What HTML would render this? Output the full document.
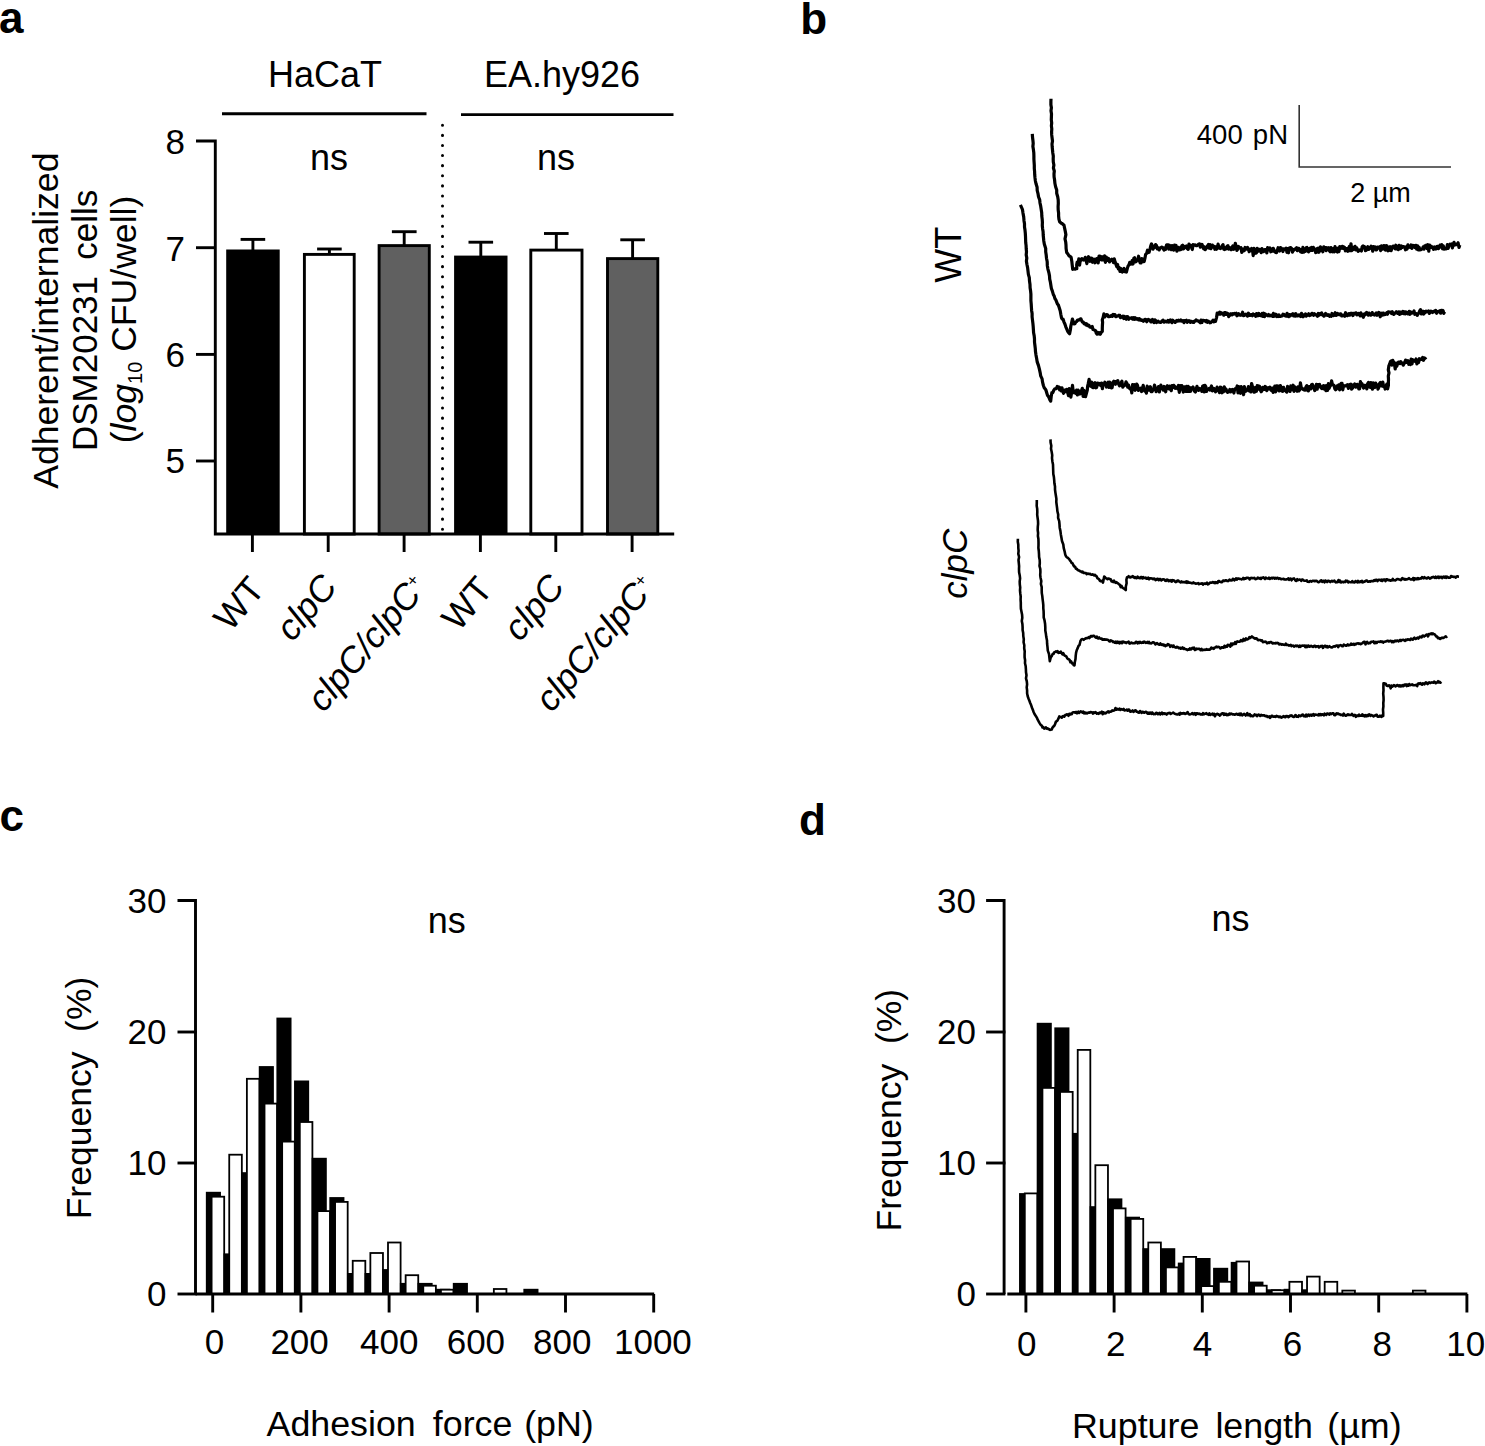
<!DOCTYPE html>
<html><head><meta charset="utf-8"><title>Figure</title><style>
html,body{margin:0;padding:0;background:#fff;overflow:hidden;}
svg{display:block;}
text{font-family:"Liberation Sans", sans-serif;fill:#000;}
.lbl{font-size:44px;font-weight:bold;}
.t36{font-size:36px;}
.t35{font-size:35px;}
.t27{font-size:27px;}
</style></head><body>
<svg width="1485" height="1446" viewBox="0 0 1485 1446">
<rect width="1485" height="1446" fill="#fff"/>
<text x="-1" y="33" class="lbl">a</text>
<text x="325" y="87" class="t36" text-anchor="middle">HaCaT</text>
<text x="562" y="87.3" class="t36" text-anchor="middle">EA.hy926</text>
<line x1="222" y1="113.8" x2="426.5" y2="113.8" stroke="#000" stroke-width="2.9"/>
<line x1="461" y1="114.6" x2="673.5" y2="114.6" stroke="#000" stroke-width="2.9"/>
<text x="329" y="170" class="t36" text-anchor="middle">ns</text>
<text x="556" y="169.5" class="t36" text-anchor="middle">ns</text>
<line x1="442.5" y1="125.2" x2="442.5" y2="533" stroke="#000" stroke-width="3" stroke-linecap="round" stroke-dasharray="0.1 10"/>
<line x1="252.9" y1="239.4" x2="252.9" y2="251.5" stroke="#000" stroke-width="2.9"/>
<line x1="240.6" y1="239.4" x2="265.2" y2="239.4" stroke="#000" stroke-width="2.9"/>
<rect x="226.2" y="249.5" width="53.5" height="284.5" fill="#000"/>
<line x1="329.4" y1="249.0" x2="329.4" y2="255.0" stroke="#000" stroke-width="2.9"/>
<line x1="317.1" y1="249.0" x2="341.7" y2="249.0" stroke="#000" stroke-width="2.9"/>
<rect x="304.4" y="254.4" width="49.8" height="279.6" fill="#fff" stroke="#000" stroke-width="2.9"/>
<line x1="404.2" y1="231.7" x2="404.2" y2="246.2" stroke="#000" stroke-width="2.9"/>
<line x1="391.9" y1="231.7" x2="416.6" y2="231.7" stroke="#000" stroke-width="2.9"/>
<rect x="379.1" y="245.6" width="50.2" height="288.4" fill="#606060" stroke="#000" stroke-width="2.9"/>
<line x1="480.8" y1="242.2" x2="480.8" y2="257.6" stroke="#000" stroke-width="2.9"/>
<line x1="468.5" y1="242.2" x2="493.1" y2="242.2" stroke="#000" stroke-width="2.9"/>
<rect x="454.1" y="255.6" width="53.4" height="278.4" fill="#000"/>
<line x1="556.3" y1="233.5" x2="556.3" y2="250.7" stroke="#000" stroke-width="2.9"/>
<line x1="544.0" y1="233.5" x2="568.6" y2="233.5" stroke="#000" stroke-width="2.9"/>
<rect x="530.8" y="250.1" width="51.2" height="283.9" fill="#fff" stroke="#000" stroke-width="2.9"/>
<line x1="632.6" y1="239.8" x2="632.6" y2="259.2" stroke="#000" stroke-width="2.9"/>
<line x1="620.3" y1="239.8" x2="644.9" y2="239.8" stroke="#000" stroke-width="2.9"/>
<rect x="607.5" y="258.6" width="50.3" height="275.4" fill="#606060" stroke="#000" stroke-width="2.9"/>
<path d="M196 141 H215.3 V534 H674.2" fill="none" stroke="#000" stroke-width="2.9"/>
<line x1="196" y1="247.7" x2="215.3" y2="247.7" stroke="#000" stroke-width="2.9"/>
<line x1="196" y1="354.4" x2="215.3" y2="354.4" stroke="#000" stroke-width="2.9"/>
<line x1="196" y1="461.0" x2="215.3" y2="461.0" stroke="#000" stroke-width="2.9"/>
<line x1="252.4" y1="534" x2="252.4" y2="552" stroke="#000" stroke-width="2.9"/>
<line x1="328.2" y1="534" x2="328.2" y2="552" stroke="#000" stroke-width="2.9"/>
<line x1="404.1" y1="534" x2="404.1" y2="552" stroke="#000" stroke-width="2.9"/>
<line x1="480.4" y1="534" x2="480.4" y2="552" stroke="#000" stroke-width="2.9"/>
<line x1="555.8" y1="534" x2="555.8" y2="552" stroke="#000" stroke-width="2.9"/>
<line x1="632.1" y1="534" x2="632.1" y2="552" stroke="#000" stroke-width="2.9"/>
<text x="185" y="153.5" class="t35" text-anchor="end">8</text>
<text x="185" y="260.5" class="t35" text-anchor="end">7</text>
<text x="185" y="367" class="t35" text-anchor="end">6</text>
<text x="185" y="473" class="t35" text-anchor="end">5</text>
<g transform="translate(57.5 320.7) rotate(-90)"><text x="0" y="0" class="t36" style="font-size:35.6px" text-anchor="middle">Adherent/internalized</text></g>
<g transform="translate(96.7 320.4) rotate(-90)"><text x="0" y="0" class="t36" style="font-size:35px" text-anchor="middle" word-spacing="6.5">DSM20231 cells</text></g>
<g transform="translate(136 319.5) rotate(-90)"><text x="0" y="0" class="t36" style="font-size:35.6px" text-anchor="middle">(<tspan font-style="italic">log</tspan><tspan font-size="20" dy="6">10</tspan><tspan dy="-6"> CFU/well)</tspan></text></g>
<g transform="translate(266.4 590) rotate(-50)"><text x="0" y="0" class="t36" text-anchor="end">WT</text></g>
<g transform="translate(338.7 587.5) rotate(-50)"><text x="0" y="0" class="t36" text-anchor="end" font-style="italic">clpC</text></g>
<g transform="translate(429.1 588) rotate(-50)"><text x="0" y="0" class="t36" text-anchor="end" font-style="italic">clpC/clpC<tspan font-size="17" dy="-12">+</tspan></text></g>
<g transform="translate(494.4 590) rotate(-50)"><text x="0" y="0" class="t36" text-anchor="end">WT</text></g>
<g transform="translate(566.3 587.5) rotate(-50)"><text x="0" y="0" class="t36" text-anchor="end" font-style="italic">clpC</text></g>
<g transform="translate(657.1 588) rotate(-50)"><text x="0" y="0" class="t36" text-anchor="end" font-style="italic">clpC/clpC<tspan font-size="17" dy="-12">+</tspan></text></g>
<text x="800.3" y="33.9" class="lbl">b</text>
<path d="M1299.2 105 V167 H1451" fill="none" stroke="#333" stroke-width="1.6"/>
<text x="1288" y="144" class="t27" style="font-size:27.5px" text-anchor="end" word-spacing="2.5">400 pN</text>
<text x="1380.5" y="202" class="t27" text-anchor="middle">2 µm</text>
<g transform="translate(960.5 254.7) rotate(-90)"><text x="0" y="0" class="t36" text-anchor="middle">WT</text></g>
<g transform="translate(967.2 563.7) rotate(-90)"><text x="0" y="0" class="t35" text-anchor="middle" font-style="italic">clpC</text></g>
<path d="M1051.0 98.8 L1050.9 101.8 L1050.9 104.8 L1051.4 107.8 L1051.0 110.8 L1051.5 113.9 L1051.4 116.9 L1051.3 119.9 L1051.7 122.9 L1051.4 125.9 L1051.8 128.9 L1051.6 131.9 L1051.7 134.9 L1052.1 138.0 L1052.5 141.0 L1052.0 144.0 L1052.2 147.0 L1052.5 150.0 L1052.8 153.0 L1053.3 156.0 L1053.2 159.0 L1053.3 162.0 L1053.9 165.0 L1053.4 168.0 L1054.3 171.0 L1054.0 174.0 L1054.1 177.0 L1054.6 180.0 L1054.9 183.3 L1055.6 186.7 L1056.7 190.0 L1056.7 193.3 L1057.7 196.7 L1058.2 200.0 L1058.3 203.3 L1058.1 206.7 L1058.2 210.0 L1058.6 213.0 L1058.6 216.0 L1058.9 219.0 L1059.6 221.7 L1060.5 222.5 L1061.3 223.2 L1062.2 223.5 L1063.0 224.5 L1063.9 224.9 L1064.6 228.2 L1065.3 231.4 L1065.9 234.7 L1065.0 238.8 L1065.7 242.0 L1066.0 245.2 L1066.1 248.5 L1066.7 252.5 L1067.9 254.0 L1069.1 256.0 L1070.1 256.3 L1071.1 257.4 L1071.8 261.2 L1072.2 264.9 L1072.7 269.3 L1073.5 269.0 L1074.3 268.8 L1075.2 269.2 L1076.0 268.7 L1076.8 268.7 L1076.7 264.6 L1077.2 262.1 L1078.0 264.3 L1078.8 258.9 L1079.6 265.1 L1080.4 259.3 L1081.2 260.3 L1082.0 258.7 L1082.8 259.4 L1083.7 260.1 L1084.5 259.4 L1085.3 257.3 L1086.1 260.4 L1086.9 263.6 L1087.7 259.0 L1088.5 256.7 L1089.3 257.6 L1090.1 261.3 L1090.9 259.9 L1091.7 258.2 L1092.5 262.3 L1093.3 260.7 L1094.1 259.1 L1095.0 262.8 L1095.8 259.8 L1096.6 258.5 L1097.4 258.5 L1098.2 262.9 L1099.0 256.2 L1099.8 256.1 L1100.6 259.3 L1101.4 259.8 L1102.2 256.7 L1103.0 259.9 L1103.8 259.6 L1104.6 255.8 L1105.4 262.3 L1106.2 257.2 L1107.1 260.5 L1107.9 258.4 L1108.7 258.6 L1109.5 261.9 L1110.3 259.8 L1111.1 260.3 L1111.9 259.3 L1112.7 260.7 L1113.5 262.5 L1114.3 258.9 L1115.2 262.3 L1116.0 264.4 L1116.8 266.8 L1117.6 264.5 L1118.4 269.0 L1119.2 267.5 L1120.0 271.5 L1120.8 268.6 L1121.6 270.1 L1122.4 272.1 L1123.2 269.6 L1124.0 268.4 L1124.8 271.7 L1125.6 270.0 L1126.4 272.1 L1127.3 268.6 L1128.1 265.9 L1128.9 264.9 L1129.7 262.5 L1130.5 264.2 L1131.3 263.8 L1132.1 260.7 L1133.0 264.0 L1133.8 258.4 L1134.6 257.8 L1135.4 261.9 L1136.2 261.6 L1137.0 260.1 L1137.8 259.6 L1138.6 256.2 L1139.4 260.8 L1140.2 263.0 L1141.0 262.9 L1141.8 258.6 L1142.6 259.5 L1143.4 261.7 L1144.2 261.4 L1145.0 257.9 L1145.6 254.4 L1146.7 253.4 L1147.5 250.2 L1148.3 252.5 L1149.1 252.2 L1149.9 249.5 L1150.7 246.0 L1151.5 243.9 L1152.3 246.1 L1153.1 249.1 L1153.9 246.3 L1154.7 247.2 L1155.6 244.6 L1156.5 245.6 L1157.3 248.8 L1158.2 247.7 L1159.1 249.9 L1160.0 248.2 L1160.8 247.6 L1161.6 247.2 L1162.4 247.3 L1163.2 248.6 L1164.0 250.1 L1164.8 247.8 L1165.6 249.4 L1166.5 245.1 L1167.3 244.8 L1168.1 244.8 L1168.9 249.1 L1169.7 245.3 L1170.5 248.3 L1171.3 249.6 L1172.1 245.6 L1172.9 246.7 L1173.7 250.2 L1174.5 245.2 L1175.3 247.3 L1176.1 245.4 L1176.9 251.2 L1177.8 249.5 L1178.6 247.3 L1179.4 249.9 L1180.2 249.7 L1181.0 249.4 L1181.8 245.8 L1182.6 245.2 L1183.4 249.0 L1184.2 248.1 L1185.0 246.5 L1185.8 247.2 L1186.6 246.0 L1187.4 248.8 L1188.2 249.4 L1189.0 244.1 L1189.9 245.6 L1190.7 245.3 L1191.5 247.4 L1192.3 249.5 L1193.1 244.7 L1193.9 245.4 L1194.7 244.9 L1195.5 245.1 L1196.3 245.7 L1197.1 245.6 L1197.9 244.9 L1198.7 244.0 L1199.5 243.9 L1200.3 247.1 L1201.1 246.6 L1202.0 244.4 L1202.8 246.4 L1203.6 248.8 L1204.4 246.8 L1205.2 249.6 L1206.0 248.7 L1206.8 247.5 L1207.6 245.8 L1208.4 244.5 L1209.2 248.1 L1210.0 244.6 L1210.8 248.7 L1211.6 247.6 L1212.4 245.1 L1213.3 246.4 L1214.1 246.3 L1214.9 249.3 L1215.7 246.8 L1216.5 249.3 L1217.3 248.4 L1218.1 244.0 L1218.9 247.4 L1219.7 248.3 L1220.5 248.6 L1221.4 247.4 L1222.2 245.7 L1223.0 244.6 L1223.8 249.3 L1224.6 249.6 L1225.4 248.0 L1226.3 248.8 L1227.1 246.3 L1227.9 245.6 L1228.7 249.1 L1229.5 247.5 L1230.4 248.1 L1231.2 249.7 L1232.0 247.4 L1232.8 245.9 L1233.6 249.3 L1234.5 247.9 L1235.3 243.3 L1236.1 246.1 L1236.9 250.4 L1237.7 249.3 L1238.5 246.5 L1239.4 247.8 L1240.2 248.0 L1241.0 247.7 L1241.8 252.4 L1242.6 249.0 L1243.5 250.9 L1244.3 250.6 L1245.1 247.5 L1245.9 248.7 L1246.7 249.1 L1247.5 247.4 L1248.4 249.1 L1249.2 251.7 L1250.0 249.5 L1250.8 250.5 L1251.6 248.5 L1252.4 249.0 L1253.2 255.6 L1254.0 248.3 L1254.8 253.4 L1255.6 250.0 L1256.4 253.0 L1257.2 248.3 L1258.0 249.2 L1258.8 251.1 L1259.6 249.3 L1260.4 249.8 L1261.2 252.6 L1262.0 248.6 L1262.8 251.5 L1263.6 251.7 L1264.4 249.8 L1265.2 249.5 L1266.0 249.5 L1266.8 252.9 L1267.6 247.7 L1268.4 249.0 L1269.2 249.8 L1270.0 248.0 L1270.8 251.8 L1271.6 249.1 L1272.4 251.2 L1273.2 248.3 L1274.0 249.9 L1274.9 251.8 L1275.7 252.4 L1276.5 252.6 L1277.3 250.5 L1278.1 247.7 L1278.9 249.9 L1279.7 251.0 L1280.5 247.6 L1281.3 248.1 L1282.1 249.3 L1282.9 251.5 L1283.7 248.8 L1284.5 249.0 L1285.3 249.5 L1286.1 248.2 L1286.9 252.3 L1287.7 248.5 L1288.5 252.8 L1289.3 248.0 L1290.1 247.7 L1290.9 247.7 L1291.7 248.6 L1292.5 252.1 L1293.3 249.5 L1294.1 250.1 L1294.9 249.0 L1295.7 248.7 L1296.5 247.8 L1297.3 250.6 L1298.1 248.3 L1298.9 248.4 L1299.7 249.5 L1300.5 251.8 L1301.3 249.7 L1302.1 252.4 L1302.9 247.4 L1303.7 252.2 L1304.5 249.6 L1305.3 251.3 L1306.1 247.8 L1306.9 247.5 L1307.7 250.8 L1308.5 251.9 L1309.3 248.7 L1310.1 248.2 L1310.9 250.5 L1311.7 247.5 L1312.5 250.4 L1313.3 247.4 L1314.1 249.7 L1314.9 248.9 L1315.7 252.6 L1316.5 252.3 L1317.3 248.5 L1318.1 248.1 L1318.9 252.3 L1319.7 250.6 L1320.5 246.8 L1321.3 250.4 L1322.1 248.1 L1322.9 251.8 L1323.8 246.8 L1324.6 249.0 L1325.4 247.7 L1326.2 250.7 L1327.0 247.7 L1327.8 248.3 L1328.6 247.8 L1329.4 250.8 L1330.2 251.8 L1331.0 247.5 L1331.8 248.8 L1332.6 251.8 L1333.4 248.7 L1334.2 251.9 L1335.0 246.7 L1335.8 248.6 L1336.6 251.3 L1337.4 252.0 L1338.2 248.2 L1339.0 251.6 L1339.8 246.5 L1340.6 248.4 L1341.4 248.2 L1342.2 246.3 L1343.0 248.3 L1343.8 247.0 L1344.6 247.4 L1345.4 250.8 L1346.2 248.6 L1347.0 248.9 L1347.8 251.3 L1348.6 248.2 L1349.4 246.3 L1350.2 250.7 L1351.0 243.8 L1351.8 250.6 L1352.6 247.2 L1353.4 249.5 L1354.2 247.9 L1355.0 246.3 L1355.8 249.9 L1356.6 247.7 L1357.4 249.3 L1358.2 251.3 L1359.0 250.6 L1359.8 249.9 L1360.6 250.3 L1361.4 251.0 L1362.2 246.6 L1363.0 245.9 L1363.8 247.6 L1364.6 246.7 L1365.4 250.6 L1366.2 250.2 L1367.0 248.6 L1367.8 246.7 L1368.6 249.4 L1369.4 248.8 L1370.2 248.1 L1371.1 246.1 L1371.9 246.8 L1372.7 251.2 L1373.5 246.6 L1374.3 248.2 L1375.1 246.9 L1375.9 249.9 L1376.7 249.9 L1377.5 247.1 L1378.3 247.0 L1379.1 248.0 L1379.9 246.8 L1380.7 250.6 L1381.5 245.8 L1382.3 246.8 L1383.1 249.1 L1383.9 245.5 L1384.7 248.1 L1385.5 250.1 L1386.3 245.6 L1387.1 246.0 L1387.9 250.8 L1388.7 250.5 L1389.5 250.1 L1390.3 246.7 L1391.1 250.6 L1391.9 248.6 L1392.7 246.4 L1393.5 246.0 L1394.3 246.6 L1395.1 248.8 L1395.9 245.2 L1396.7 248.9 L1397.5 246.9 L1398.3 249.6 L1399.1 245.4 L1399.9 247.3 L1400.7 248.6 L1401.5 246.0 L1402.3 247.3 L1403.1 246.7 L1403.9 246.7 L1404.7 247.0 L1405.5 249.8 L1406.3 247.0 L1407.1 249.0 L1407.9 244.9 L1408.7 247.3 L1409.5 247.1 L1410.3 247.4 L1411.1 244.9 L1411.9 248.4 L1412.7 245.3 L1413.5 246.9 L1414.3 245.6 L1415.1 247.7 L1415.9 245.3 L1416.7 249.2 L1417.6 245.8 L1418.4 250.0 L1419.2 247.4 L1420.0 249.8 L1420.8 249.7 L1421.6 249.2 L1422.4 249.0 L1423.2 246.8 L1424.0 249.2 L1424.8 245.8 L1425.6 247.4 L1426.4 245.2 L1427.2 248.5 L1428.0 244.7 L1428.8 251.2 L1429.6 245.1 L1430.4 247.5 L1431.2 246.1 L1432.0 247.6 L1432.8 248.0 L1433.6 249.3 L1434.4 246.9 L1435.2 247.8 L1436.0 249.0 L1436.8 246.5 L1437.6 246.3 L1438.4 248.7 L1439.2 247.9 L1440.0 245.1 L1440.8 245.9 L1441.7 244.6 L1442.5 248.8 L1443.3 245.8 L1444.1 249.2 L1445.0 248.1 L1445.8 248.9 L1446.6 248.7 L1447.4 244.5 L1448.2 248.4 L1449.1 245.3 L1449.9 244.2 L1450.7 244.7 L1451.5 244.0 L1452.4 247.9 L1453.2 244.4 L1454.0 242.3 L1454.8 245.0 L1455.7 244.3 L1456.5 244.7 L1457.3 244.0 L1458.1 242.8 L1459.0 247.5 L1459.8 245.0" fill="none" stroke="#000" stroke-width="3.2" stroke-linejoin="round"/>
<path d="M1032.3 133.9 L1032.5 137.0 L1032.9 140.2 L1033.2 143.3 L1032.9 146.5 L1033.4 149.6 L1033.8 152.7 L1033.9 155.9 L1033.9 159.0 L1034.1 162.2 L1034.3 165.3 L1034.3 168.4 L1034.6 171.6 L1034.7 174.7 L1035.0 177.9 L1035.4 181.0 L1036.1 184.1 L1037.1 187.3 L1037.2 190.4 L1038.0 193.6 L1038.5 196.7 L1039.7 199.9 L1040.0 203.0 L1040.7 206.2 L1041.2 209.5 L1041.7 212.8 L1041.8 216.0 L1042.2 219.2 L1042.4 222.3 L1042.3 225.5 L1042.6 228.7 L1043.1 231.8 L1043.2 235.0 L1043.5 238.0 L1043.8 241.0 L1044.3 244.0 L1045.7 248.5 L1045.7 251.7 L1046.2 255.0 L1046.5 258.2 L1047.2 261.8 L1047.3 265.4 L1047.9 269.1 L1048.9 272.7 L1049.5 275.9 L1049.7 279.1 L1050.4 282.2 L1050.9 285.4 L1051.4 288.5 L1052.3 290.9 L1053.3 294.4 L1054.2 296.1 L1055.0 298.7 L1055.8 299.7 L1056.7 302.1 L1057.5 304.1 L1058.3 304.9 L1059.1 307.2 L1060.2 310.7 L1060.8 314.2 L1061.5 317.8 L1062.3 319.1 L1063.1 319.1 L1063.9 321.8 L1064.9 324.0 L1065.8 326.8 L1066.8 329.2 L1067.7 331.3 L1068.7 332.7 L1069.6 333.8 L1070.4 329.8 L1070.8 326.3 L1071.6 322.8 L1072.4 319.0 L1074.0 323.9 L1074.9 323.7 L1075.7 322.3 L1076.6 321.6 L1077.5 320.1 L1078.4 320.2 L1079.2 319.8 L1080.1 319.2 L1080.9 318.8 L1081.7 320.8 L1082.5 322.2 L1083.3 322.1 L1084.1 323.7 L1084.9 323.4 L1085.7 324.7 L1086.5 323.7 L1087.4 325.6 L1088.2 325.0 L1089.0 325.4 L1089.8 327.0 L1090.6 327.3 L1091.4 327.5 L1092.2 326.5 L1093.0 329.5 L1093.9 329.7 L1094.7 330.3 L1095.5 330.5 L1096.3 333.2 L1097.1 334.1 L1097.9 332.4 L1098.7 333.8 L1099.5 332.8 L1100.3 334.2 L1101.3 332.3 L1102.3 331.4 L1102.3 328.4 L1102.4 325.4 L1102.6 322.3 L1102.3 319.7 L1103.1 317.5 L1103.9 313.9 L1104.8 316.9 L1105.7 315.2 L1106.6 314.5 L1107.4 314.7 L1108.3 316.6 L1109.2 316.6 L1110.0 316.2 L1110.8 316.3 L1111.6 315.5 L1112.4 316.4 L1113.2 314.4 L1114.1 314.7 L1114.9 314.6 L1115.7 316.7 L1116.5 316.4 L1117.3 316.1 L1118.1 315.8 L1118.9 315.2 L1119.7 315.4 L1120.5 317.7 L1121.3 317.2 L1122.1 317.1 L1122.9 316.1 L1123.7 318.6 L1124.5 316.4 L1125.4 318.4 L1126.2 319.2 L1127.0 316.6 L1127.8 316.8 L1128.6 319.3 L1129.4 318.0 L1130.2 318.0 L1131.0 318.3 L1131.8 317.6 L1132.7 319.1 L1133.5 317.7 L1134.3 319.4 L1135.1 317.6 L1136.0 319.1 L1136.8 319.0 L1137.6 318.7 L1138.4 319.9 L1139.3 318.6 L1140.1 320.0 L1140.9 319.6 L1141.7 320.5 L1142.6 320.2 L1143.4 321.3 L1144.2 320.3 L1145.0 319.3 L1145.9 319.5 L1146.7 321.8 L1147.5 320.8 L1148.3 319.4 L1149.2 320.0 L1150.0 320.0 L1150.8 322.0 L1151.6 322.0 L1152.5 319.5 L1153.3 320.8 L1154.1 322.6 L1154.9 319.8 L1155.8 320.7 L1156.6 322.6 L1157.4 321.6 L1158.2 321.2 L1159.0 322.1 L1159.8 322.2 L1160.6 322.5 L1161.4 321.8 L1162.2 320.8 L1163.1 320.2 L1163.9 322.2 L1164.7 321.8 L1165.5 321.2 L1166.3 321.8 L1167.1 321.9 L1167.9 320.4 L1168.7 322.2 L1169.5 321.4 L1170.3 320.0 L1171.1 320.4 L1171.9 322.7 L1172.7 320.2 L1173.5 321.5 L1174.4 321.4 L1175.2 322.4 L1176.0 321.1 L1176.8 320.5 L1177.6 321.1 L1178.4 320.3 L1179.2 321.0 L1180.0 320.7 L1180.8 319.9 L1181.6 321.2 L1182.4 321.0 L1183.2 320.6 L1184.0 322.7 L1184.8 320.6 L1185.6 321.1 L1186.5 320.3 L1187.3 322.3 L1188.1 321.3 L1188.9 320.6 L1189.7 321.0 L1190.5 322.4 L1191.3 321.3 L1192.1 321.5 L1192.9 322.4 L1193.7 322.5 L1194.5 321.0 L1195.3 321.2 L1196.1 319.9 L1196.9 320.7 L1197.7 320.8 L1198.6 321.2 L1199.4 321.9 L1200.2 322.7 L1201.0 320.1 L1201.8 322.6 L1202.6 320.3 L1203.4 320.4 L1204.2 320.5 L1205.0 320.8 L1205.8 321.6 L1206.6 320.5 L1207.4 322.3 L1208.2 321.1 L1209.0 321.7 L1209.9 322.8 L1210.7 322.6 L1211.5 321.8 L1212.3 321.4 L1213.1 320.1 L1213.9 321.9 L1214.7 320.3 L1215.5 321.4 L1216.6 317.3 L1217.2 313.1 L1218.0 313.2 L1218.8 314.0 L1219.7 312.2 L1220.5 314.2 L1221.3 312.8 L1222.1 313.4 L1222.9 313.4 L1223.8 315.2 L1224.6 312.5 L1225.4 312.6 L1226.2 314.3 L1227.0 313.1 L1227.9 313.8 L1228.7 316.6 L1229.5 314.2 L1230.3 315.1 L1231.1 313.8 L1232.0 314.8 L1232.8 313.7 L1233.6 314.2 L1234.4 313.3 L1235.2 313.8 L1236.1 313.3 L1236.9 315.8 L1237.7 315.2 L1238.5 313.6 L1239.3 314.6 L1240.2 315.3 L1241.0 315.1 L1241.8 314.6 L1242.6 312.2 L1243.4 315.6 L1244.3 315.4 L1245.1 314.6 L1245.9 314.2 L1246.7 315.2 L1247.5 316.0 L1248.4 313.2 L1249.2 315.2 L1250.0 315.4 L1250.8 314.5 L1251.6 314.8 L1252.4 315.8 L1253.2 314.0 L1254.1 314.6 L1254.9 314.6 L1255.7 316.3 L1256.5 313.6 L1257.3 315.8 L1258.1 315.6 L1258.9 313.4 L1259.7 315.2 L1260.5 315.5 L1261.3 315.9 L1262.2 313.5 L1263.0 316.3 L1263.8 313.2 L1264.6 316.6 L1265.4 314.0 L1266.2 314.9 L1267.0 315.2 L1267.8 315.8 L1268.6 314.5 L1269.4 315.7 L1270.2 315.9 L1271.0 315.2 L1271.8 315.6 L1272.6 316.4 L1273.4 313.4 L1274.2 316.3 L1275.0 315.4 L1275.8 314.3 L1276.6 316.5 L1277.4 315.3 L1278.2 316.5 L1279.0 314.9 L1279.8 316.5 L1280.6 316.5 L1281.4 316.0 L1282.2 315.9 L1283.0 314.2 L1283.8 314.4 L1284.7 315.4 L1285.5 316.0 L1286.3 316.2 L1287.1 313.3 L1287.9 316.1 L1288.7 316.6 L1289.5 314.6 L1290.3 315.9 L1291.1 314.8 L1291.9 314.3 L1292.7 313.8 L1293.5 315.8 L1294.3 314.2 L1295.1 316.2 L1295.9 313.7 L1296.7 315.9 L1297.5 315.9 L1298.3 315.0 L1299.1 314.9 L1299.9 315.9 L1300.7 316.5 L1301.5 313.4 L1302.3 315.6 L1303.1 316.7 L1303.9 314.8 L1304.7 315.9 L1305.5 314.0 L1306.3 316.2 L1307.1 315.0 L1307.9 315.2 L1308.7 313.8 L1309.5 315.6 L1310.3 315.1 L1311.1 314.9 L1311.9 313.3 L1312.7 314.4 L1313.5 315.3 L1314.3 313.7 L1315.1 314.3 L1315.9 314.8 L1316.7 315.2 L1317.5 316.3 L1318.3 313.5 L1319.1 315.2 L1319.9 313.6 L1320.7 314.3 L1321.6 312.9 L1322.4 315.0 L1323.2 314.7 L1324.0 316.2 L1324.8 315.2 L1325.6 313.5 L1326.4 314.0 L1327.2 315.3 L1328.0 315.4 L1328.8 314.7 L1329.6 316.4 L1330.4 315.4 L1331.2 316.3 L1332.0 313.5 L1332.8 314.0 L1333.6 315.6 L1334.4 314.8 L1335.2 312.7 L1336.0 315.4 L1336.8 315.1 L1337.6 313.5 L1338.4 314.0 L1339.2 314.7 L1340.0 313.9 L1340.8 313.9 L1341.6 315.8 L1342.4 315.9 L1343.2 315.1 L1344.0 315.5 L1344.8 316.2 L1345.6 312.7 L1346.4 314.5 L1347.2 315.7 L1348.0 315.0 L1348.9 313.6 L1349.7 315.2 L1350.5 313.3 L1351.3 313.7 L1352.1 313.3 L1352.9 315.6 L1353.7 313.3 L1354.5 313.8 L1355.3 313.0 L1356.1 312.8 L1356.9 314.9 L1357.7 314.2 L1358.5 313.4 L1359.3 313.8 L1360.1 315.9 L1360.9 312.8 L1361.7 315.5 L1362.5 314.9 L1363.3 317.3 L1364.1 314.1 L1364.9 315.1 L1365.7 313.3 L1366.6 312.5 L1367.4 313.3 L1368.2 315.2 L1369.0 313.1 L1369.8 314.3 L1370.6 315.2 L1371.4 314.8 L1372.2 312.6 L1373.0 314.3 L1373.8 314.7 L1374.6 315.0 L1375.4 313.8 L1376.2 313.0 L1377.0 315.3 L1377.8 313.4 L1378.6 312.4 L1379.4 312.8 L1380.2 316.8 L1381.0 313.9 L1381.8 313.1 L1382.6 315.2 L1383.4 313.1 L1384.3 314.7 L1385.1 314.5 L1385.9 313.7 L1386.7 312.8 L1387.5 314.2 L1388.3 311.8 L1389.1 312.1 L1389.9 312.0 L1390.7 312.2 L1391.5 313.5 L1392.3 311.7 L1393.1 314.1 L1393.9 314.4 L1394.7 313.1 L1395.5 313.0 L1396.3 311.8 L1397.1 312.4 L1397.9 313.4 L1398.7 311.8 L1399.5 314.4 L1400.3 312.1 L1401.2 313.6 L1402.0 312.7 L1402.8 311.4 L1403.6 313.6 L1404.4 311.8 L1405.2 313.9 L1406.0 312.0 L1406.8 312.7 L1407.6 313.9 L1408.4 313.9 L1409.2 311.3 L1410.0 314.3 L1410.8 311.9 L1411.6 313.2 L1412.4 312.8 L1413.2 312.5 L1414.0 311.0 L1414.8 314.3 L1415.6 314.1 L1416.4 313.7 L1417.2 315.4 L1418.0 314.0 L1418.9 313.0 L1419.7 310.9 L1420.5 309.7 L1421.3 314.0 L1422.1 311.8 L1422.9 311.1 L1423.7 314.0 L1424.5 311.6 L1425.3 312.5 L1426.1 311.1 L1426.9 311.6 L1427.7 311.6 L1428.5 310.9 L1429.3 313.4 L1430.1 312.5 L1430.9 311.2 L1431.7 312.0 L1432.5 312.5 L1433.3 311.5 L1434.1 311.2 L1434.9 311.7 L1435.7 310.4 L1436.6 313.3 L1437.4 312.2 L1438.2 311.3 L1439.0 311.3 L1439.8 310.8 L1440.6 313.2 L1441.4 310.4 L1442.2 311.7 L1443.0 310.5 L1443.8 313.4 L1444.6 311.8" fill="none" stroke="#000" stroke-width="3.2" stroke-linejoin="round"/>
<path d="M1020.4 204.9 L1021.4 207.1 L1022.4 209.3 L1023.0 213.1 L1023.7 216.9 L1024.0 220.7 L1024.5 223.8 L1024.5 226.9 L1025.0 230.1 L1025.3 233.2 L1025.5 236.3 L1025.6 239.4 L1025.7 242.5 L1026.1 245.6 L1026.2 248.7 L1026.5 251.8 L1026.2 254.9 L1026.8 258.0 L1026.4 261.1 L1026.9 264.2 L1027.6 267.6 L1028.0 271.0 L1028.4 274.4 L1029.3 277.7 L1029.5 281.1 L1030.0 284.5 L1030.1 287.7 L1030.6 291.0 L1030.9 294.2 L1030.9 297.4 L1030.9 300.7 L1031.2 303.9 L1031.4 307.2 L1031.6 310.4 L1032.1 313.6 L1032.1 316.9 L1032.5 320.1 L1032.9 323.4 L1033.2 326.6 L1033.4 329.7 L1033.6 332.8 L1034.2 335.9 L1034.5 339.0 L1034.5 342.1 L1034.9 345.3 L1035.3 348.6 L1035.5 351.8 L1036.0 355.1 L1036.6 358.3 L1037.2 361.9 L1038.5 365.6 L1039.4 369.2 L1040.2 372.8 L1040.7 375.9 L1042.1 378.9 L1042.5 381.9 L1043.4 385.5 L1044.2 387.7 L1045.0 388.7 L1045.9 390.0 L1046.7 392.8 L1047.5 395.4 L1048.3 396.3 L1049.1 397.9 L1049.9 399.8 L1050.7 401.1 L1051.2 396.6 L1051.9 392.5 L1052.8 392.6 L1053.7 390.4 L1054.6 389.0 L1055.4 388.7 L1056.3 388.7 L1057.2 386.5 L1058.0 387.8 L1058.8 386.9 L1059.6 389.8 L1060.4 387.8 L1061.2 390.9 L1062.0 387.9 L1062.8 391.3 L1063.6 393.3 L1064.4 390.8 L1065.2 389.9 L1066.0 391.7 L1066.8 389.3 L1067.7 392.6 L1068.5 395.7 L1069.3 388.6 L1070.1 394.3 L1070.9 397.1 L1071.7 391.6 L1072.5 385.4 L1073.3 392.6 L1074.2 390.9 L1075.0 393.0 L1075.8 393.5 L1076.6 390.1 L1077.4 395.0 L1078.2 390.1 L1079.0 393.4 L1079.8 394.1 L1080.6 393.4 L1081.4 390.7 L1082.3 388.3 L1083.1 396.3 L1083.9 390.3 L1084.7 391.2 L1085.5 396.7 L1086.3 393.8 L1087.3 390.0 L1087.6 386.3 L1088.3 383.4 L1089.1 379.3 L1090.0 385.7 L1090.8 386.4 L1091.6 382.1 L1092.5 387.4 L1093.3 387.6 L1094.1 383.6 L1095.0 382.6 L1095.8 387.8 L1096.6 387.5 L1097.5 383.0 L1098.3 383.4 L1099.1 384.5 L1100.0 383.4 L1100.8 385.7 L1101.6 383.1 L1102.4 388.7 L1103.2 384.2 L1104.0 384.3 L1104.8 382.2 L1105.7 384.4 L1106.5 387.0 L1107.3 383.5 L1108.1 382.3 L1108.9 387.5 L1109.7 382.2 L1110.5 386.3 L1111.3 387.9 L1112.1 387.7 L1113.0 382.1 L1113.8 381.2 L1114.6 382.0 L1115.4 384.3 L1116.2 381.5 L1117.0 381.1 L1117.8 380.6 L1118.6 384.0 L1119.5 385.9 L1120.3 385.2 L1121.1 382.7 L1121.9 381.2 L1122.8 387.2 L1123.6 385.9 L1124.4 385.3 L1125.2 385.1 L1126.0 381.9 L1126.9 383.3 L1127.7 387.2 L1128.5 385.0 L1129.3 388.0 L1130.1 388.8 L1131.0 388.0 L1131.8 392.9 L1132.6 384.7 L1133.4 385.7 L1134.2 384.6 L1135.1 390.3 L1135.9 388.9 L1136.7 384.0 L1137.5 385.4 L1138.4 390.4 L1139.2 389.0 L1140.0 388.7 L1140.8 388.2 L1141.6 391.5 L1142.4 388.8 L1143.2 385.3 L1144.0 389.4 L1144.8 391.1 L1145.6 389.8 L1146.4 393.1 L1147.2 386.1 L1148.0 390.2 L1148.8 389.8 L1149.6 390.2 L1150.4 386.7 L1151.2 391.7 L1152.0 391.6 L1152.8 390.2 L1153.6 389.3 L1154.5 385.0 L1155.3 387.8 L1156.1 391.7 L1156.9 390.4 L1157.7 390.0 L1158.5 386.6 L1159.3 392.0 L1160.1 388.8 L1160.9 385.1 L1161.7 387.8 L1162.5 387.0 L1163.3 390.1 L1164.1 386.5 L1164.9 388.6 L1165.7 391.8 L1166.5 387.0 L1167.3 385.8 L1168.1 387.3 L1168.9 388.9 L1169.7 386.1 L1170.5 389.3 L1171.3 390.6 L1172.1 385.7 L1172.9 387.6 L1173.7 385.3 L1174.5 386.3 L1175.3 388.3 L1176.1 387.3 L1176.9 387.6 L1177.7 388.8 L1178.5 385.5 L1179.3 392.4 L1180.1 385.7 L1180.9 388.2 L1181.8 385.6 L1182.6 389.8 L1183.4 392.1 L1184.2 386.9 L1185.0 389.4 L1185.8 391.4 L1186.6 386.4 L1187.4 391.4 L1188.2 386.3 L1189.0 391.3 L1189.8 387.5 L1190.6 391.3 L1191.4 387.9 L1192.2 387.9 L1193.0 386.9 L1193.8 389.4 L1194.6 391.3 L1195.4 392.0 L1196.2 388.9 L1197.0 386.3 L1197.8 389.6 L1198.6 390.4 L1199.4 388.5 L1200.2 389.3 L1201.0 388.8 L1201.8 391.4 L1202.6 386.3 L1203.4 385.6 L1204.2 392.0 L1205.0 385.3 L1205.8 386.6 L1206.6 391.5 L1207.4 389.6 L1208.2 389.4 L1209.1 388.5 L1209.9 390.0 L1210.7 388.3 L1211.5 385.9 L1212.3 390.8 L1213.1 390.3 L1213.9 388.5 L1214.7 390.3 L1215.5 391.9 L1216.3 390.2 L1217.1 387.1 L1217.9 390.6 L1218.7 389.8 L1219.5 392.6 L1220.3 387.2 L1221.1 387.4 L1221.9 392.8 L1222.7 391.2 L1223.5 391.8 L1224.3 386.9 L1225.1 390.9 L1225.9 389.0 L1226.7 390.8 L1227.5 392.4 L1228.3 392.0 L1229.1 391.6 L1229.9 389.4 L1230.7 391.9 L1231.5 390.3 L1232.3 389.5 L1233.1 390.8 L1233.9 393.0 L1234.7 389.2 L1235.5 388.5 L1236.4 388.7 L1237.2 386.0 L1238.0 392.9 L1238.8 386.6 L1239.6 392.6 L1240.4 393.2 L1241.2 386.6 L1242.0 388.4 L1242.8 392.1 L1243.6 394.7 L1244.4 386.7 L1245.2 391.3 L1246.0 391.2 L1246.8 390.3 L1247.6 389.9 L1248.4 386.6 L1249.2 390.9 L1250.0 387.4 L1250.8 392.0 L1251.6 383.5 L1252.4 386.5 L1253.2 387.0 L1254.0 392.2 L1254.8 391.9 L1255.6 387.6 L1256.4 391.3 L1257.2 385.7 L1258.0 389.3 L1258.8 386.0 L1259.6 386.2 L1260.4 390.3 L1261.2 391.7 L1262.0 390.6 L1262.8 387.3 L1263.6 389.3 L1264.4 389.4 L1265.2 386.5 L1266.0 387.0 L1266.8 390.7 L1267.6 388.8 L1268.4 387.7 L1269.2 388.9 L1270.0 387.2 L1270.8 389.8 L1271.6 390.6 L1272.4 388.1 L1273.2 392.4 L1274.0 389.4 L1274.8 386.2 L1275.6 391.8 L1276.4 385.9 L1277.2 388.2 L1278.0 385.9 L1278.8 390.8 L1279.6 390.8 L1280.4 385.6 L1281.2 387.5 L1282.0 391.2 L1282.8 391.3 L1283.6 387.4 L1284.4 389.8 L1285.2 390.6 L1286.0 391.3 L1286.8 392.1 L1287.6 386.3 L1288.4 389.7 L1289.2 387.7 L1290.0 391.5 L1290.8 385.8 L1291.6 386.6 L1292.4 389.5 L1293.2 385.2 L1294.0 391.3 L1294.8 386.8 L1295.6 388.0 L1296.4 389.6 L1297.2 391.2 L1298.0 386.8 L1298.8 391.0 L1299.6 390.0 L1300.4 382.9 L1301.2 387.3 L1302.0 388.8 L1302.8 389.1 L1303.6 389.7 L1304.4 388.7 L1305.2 390.2 L1306.0 386.8 L1306.8 385.6 L1307.6 390.6 L1308.4 390.9 L1309.2 386.6 L1310.0 388.9 L1310.8 389.0 L1311.6 384.5 L1312.4 384.4 L1313.2 386.5 L1314.0 388.4 L1314.8 390.6 L1315.6 388.1 L1316.4 384.4 L1317.2 389.2 L1318.0 384.6 L1318.8 384.9 L1319.6 384.5 L1320.4 386.9 L1321.2 388.1 L1322.0 388.5 L1322.8 386.2 L1323.6 385.6 L1324.4 389.2 L1325.2 385.9 L1326.0 390.7 L1326.8 385.7 L1327.6 390.4 L1328.4 383.7 L1329.2 388.3 L1330.0 386.2 L1330.8 385.2 L1331.6 380.9 L1332.4 384.4 L1333.2 385.0 L1334.0 385.3 L1334.8 388.7 L1335.6 389.7 L1336.4 389.0 L1337.2 385.9 L1338.0 386.5 L1338.8 384.8 L1339.6 389.8 L1340.4 384.8 L1341.2 383.4 L1342.0 383.3 L1342.8 389.8 L1343.6 385.7 L1344.4 385.8 L1345.2 385.8 L1346.0 386.0 L1346.8 385.0 L1347.6 384.7 L1348.4 388.5 L1349.2 385.1 L1350.0 384.5 L1350.8 384.1 L1351.6 389.2 L1352.4 388.3 L1353.2 384.9 L1354.0 386.3 L1354.8 384.0 L1355.6 387.1 L1356.4 386.9 L1357.2 384.3 L1358.0 385.3 L1358.8 388.9 L1359.6 388.9 L1360.4 381.6 L1361.2 383.7 L1362.0 383.6 L1362.8 386.2 L1363.6 388.0 L1364.4 385.4 L1365.2 387.1 L1366.0 385.3 L1366.8 388.9 L1367.6 383.9 L1368.4 382.5 L1369.2 386.7 L1370.0 387.4 L1370.8 382.7 L1371.6 382.8 L1372.4 389.2 L1373.2 382.8 L1374.0 387.2 L1374.8 387.5 L1375.6 383.0 L1376.4 385.7 L1377.2 384.7 L1378.0 389.1 L1378.8 387.4 L1379.6 383.3 L1380.4 382.5 L1381.2 385.7 L1382.0 386.0 L1382.8 382.0 L1383.6 386.6 L1384.4 385.9 L1385.2 389.0 L1386.0 387.0 L1386.8 384.1 L1387.6 388.8 L1388.4 385.4 L1388.4 382.3 L1388.5 379.1 L1388.3 376.0 L1389.0 372.9 L1388.3 369.8 L1388.8 366.6 L1388.8 366.2 L1389.6 364.2 L1390.4 361.7 L1391.2 360.9 L1392.0 365.1 L1392.8 360.4 L1393.6 362.1 L1394.4 363.5 L1395.2 369.0 L1396.0 363.1 L1396.8 366.1 L1397.6 363.8 L1398.4 362.1 L1399.2 362.1 L1400.0 363.5 L1400.8 361.6 L1401.6 362.9 L1402.4 363.3 L1403.2 365.2 L1404.0 363.9 L1404.8 362.3 L1405.6 360.1 L1406.4 362.5 L1407.2 362.5 L1408.0 360.6 L1408.8 364.3 L1409.6 363.1 L1410.4 364.6 L1411.2 359.1 L1412.0 363.9 L1412.8 359.7 L1413.6 360.3 L1414.5 360.8 L1415.3 361.5 L1416.1 359.0 L1416.9 363.9 L1417.8 360.7 L1418.6 362.5 L1419.4 358.7 L1420.2 359.8 L1421.1 358.9 L1421.9 359.3 L1422.7 357.4 L1423.5 360.3 L1424.4 358.0 L1425.2 358.4 L1426.0 359.5" fill="none" stroke="#000" stroke-width="3.2" stroke-linejoin="round"/>
<path d="M1050.5 439.4 L1050.6 442.5 L1051.3 445.7 L1051.0 448.8 L1051.7 452.0 L1052.2 455.1 L1052.0 458.2 L1052.4 461.4 L1053.0 464.5 L1053.1 467.7 L1053.2 470.8 L1053.3 474.0 L1053.9 477.1 L1054.2 480.2 L1054.4 483.3 L1055.0 486.4 L1055.0 489.5 L1055.4 492.6 L1055.9 495.8 L1056.4 498.9 L1056.3 502.0 L1056.7 505.1 L1057.1 508.2 L1057.4 511.3 L1058.2 514.6 L1058.1 517.8 L1059.2 521.1 L1059.5 524.4 L1059.7 527.7 L1060.4 530.9 L1060.8 534.2 L1061.4 537.6 L1062.0 541.0 L1063.3 544.5 L1063.7 547.9 L1064.6 551.3 L1065.3 554.7 L1066.2 556.6 L1067.1 557.4 L1068.1 558.1 L1069.0 558.9 L1069.9 560.3 L1070.8 561.3 L1071.6 563.0 L1072.5 563.2 L1073.3 565.0 L1074.2 566.5 L1075.1 566.8 L1075.9 568.8 L1076.8 568.9 L1077.6 569.9 L1078.5 570.5 L1079.3 570.5 L1080.1 571.2 L1080.9 571.4 L1081.8 572.1 L1082.6 571.5 L1083.4 573.0 L1084.2 572.7 L1085.1 572.9 L1085.9 573.1 L1086.7 574.1 L1087.6 573.5 L1088.4 573.8 L1089.2 574.1 L1090.0 573.8 L1090.9 574.6 L1091.7 574.8 L1092.5 574.3 L1093.3 574.7 L1094.2 575.4 L1095.0 574.8 L1095.8 575.8 L1096.6 576.4 L1097.4 578.1 L1098.2 578.7 L1099.0 579.1 L1099.8 580.6 L1100.6 581.2 L1101.4 581.0 L1102.2 580.9 L1103.0 582.6 L1104.2 576.6 L1105.0 577.1 L1105.8 578.3 L1106.6 578.5 L1107.5 579.2 L1108.3 578.5 L1109.1 578.7 L1109.9 579.2 L1110.7 579.3 L1111.5 581.4 L1112.3 581.1 L1113.2 582.0 L1114.0 580.7 L1114.8 582.2 L1115.6 582.8 L1116.4 582.2 L1117.3 583.0 L1118.1 583.4 L1119.0 584.4 L1119.8 584.7 L1120.7 587.1 L1121.5 585.8 L1122.4 587.7 L1123.2 588.2 L1124.1 588.7 L1125.0 589.3 L1125.8 590.1 L1125.8 586.7 L1126.6 583.2 L1126.4 579.8 L1127.0 577.2 L1127.8 577.3 L1128.6 576.2 L1129.4 577.1 L1130.3 577.5 L1131.1 576.8 L1131.9 577.1 L1132.7 576.2 L1133.5 576.6 L1134.3 577.8 L1135.1 577.2 L1136.0 578.2 L1136.8 578.2 L1137.6 576.6 L1138.4 577.5 L1139.2 578.1 L1140.0 578.3 L1140.8 577.0 L1141.7 577.1 L1142.5 578.5 L1143.3 577.1 L1144.1 578.0 L1144.9 578.0 L1145.7 577.5 L1146.5 578.8 L1147.4 578.8 L1148.2 577.6 L1149.0 579.3 L1149.8 578.2 L1150.6 578.3 L1151.4 578.4 L1152.2 578.6 L1153.1 579.2 L1153.9 578.6 L1154.7 578.8 L1155.5 580.2 L1156.3 579.8 L1157.1 578.9 L1157.9 578.8 L1158.8 580.2 L1159.6 579.1 L1160.4 579.0 L1161.2 580.5 L1162.0 579.8 L1162.8 579.3 L1163.6 579.4 L1164.5 579.6 L1165.3 580.8 L1166.1 580.9 L1166.9 579.6 L1167.7 579.7 L1168.5 581.1 L1169.3 580.3 L1170.2 581.2 L1171.0 580.2 L1171.8 581.7 L1172.6 580.1 L1173.4 580.4 L1174.2 580.5 L1175.0 581.7 L1175.8 582.1 L1176.6 581.8 L1177.4 580.5 L1178.2 580.6 L1179.0 581.3 L1179.8 581.8 L1180.6 582.4 L1181.4 581.5 L1182.2 582.2 L1183.0 582.1 L1183.8 582.0 L1184.6 582.1 L1185.4 582.5 L1186.2 581.4 L1187.0 582.9 L1187.8 581.7 L1188.6 582.7 L1189.4 582.5 L1190.2 582.8 L1191.0 582.9 L1191.8 583.3 L1192.6 583.3 L1193.4 582.4 L1194.2 583.1 L1195.0 583.2 L1195.8 583.8 L1196.6 583.5 L1197.4 583.5 L1198.2 583.0 L1199.0 584.2 L1199.8 583.8 L1200.6 583.8 L1201.4 583.5 L1202.2 583.3 L1203.0 584.6 L1203.8 583.8 L1204.6 583.5 L1205.4 583.9 L1206.2 583.5 L1207.0 582.7 L1207.8 584.4 L1208.6 584.0 L1209.4 583.3 L1210.2 582.5 L1211.0 582.7 L1211.8 582.6 L1212.6 582.1 L1213.4 582.3 L1214.3 583.2 L1215.1 582.0 L1215.9 583.0 L1216.7 582.3 L1217.5 582.9 L1218.3 581.0 L1219.1 581.0 L1219.9 581.8 L1220.7 582.0 L1221.5 582.3 L1222.3 581.8 L1223.1 580.5 L1223.9 580.6 L1224.7 581.0 L1225.5 580.4 L1226.3 580.3 L1227.1 580.9 L1227.9 581.1 L1228.7 580.6 L1229.5 579.7 L1230.3 580.2 L1231.2 580.5 L1232.0 580.3 L1232.8 578.9 L1233.6 579.0 L1234.4 580.3 L1235.2 579.6 L1236.0 578.4 L1236.8 579.6 L1237.6 578.6 L1238.4 578.5 L1239.2 578.7 L1240.0 579.0 L1240.8 579.0 L1241.6 579.5 L1242.4 579.0 L1243.2 578.0 L1244.0 579.2 L1244.8 578.3 L1245.6 578.6 L1246.5 577.9 L1247.3 577.9 L1248.1 577.7 L1248.9 578.3 L1249.7 579.4 L1250.5 578.1 L1251.3 577.9 L1252.1 578.3 L1252.9 578.0 L1253.7 578.2 L1254.5 577.9 L1255.3 579.1 L1256.1 579.0 L1256.9 578.8 L1257.8 577.6 L1258.6 578.2 L1259.4 578.6 L1260.2 577.8 L1261.0 579.0 L1261.8 577.8 L1262.6 577.7 L1263.4 577.3 L1264.2 578.3 L1265.0 579.0 L1265.8 577.6 L1266.6 578.2 L1267.4 578.4 L1268.2 578.6 L1269.0 577.7 L1269.9 578.9 L1270.7 578.4 L1271.5 577.8 L1272.3 578.4 L1273.1 577.8 L1273.9 577.7 L1274.7 578.6 L1275.5 577.9 L1276.3 578.7 L1277.1 577.7 L1277.9 578.0 L1278.7 578.9 L1279.5 578.4 L1280.3 578.5 L1281.1 579.1 L1281.9 579.1 L1282.7 578.9 L1283.5 578.7 L1284.3 579.5 L1285.1 579.4 L1285.9 579.6 L1286.7 579.3 L1287.5 579.2 L1288.3 578.3 L1289.1 579.8 L1289.9 578.7 L1290.7 578.6 L1291.5 580.3 L1292.3 579.2 L1293.2 578.7 L1294.0 578.4 L1294.8 579.6 L1295.6 580.7 L1296.4 580.9 L1297.2 579.2 L1298.0 580.2 L1298.8 579.8 L1299.6 579.6 L1300.4 579.7 L1301.2 580.9 L1302.0 579.5 L1302.8 579.6 L1303.6 580.4 L1304.4 580.8 L1305.2 580.8 L1306.0 580.8 L1306.8 580.3 L1307.6 581.8 L1308.4 581.8 L1309.2 582.0 L1310.0 581.1 L1310.8 581.1 L1311.6 581.6 L1312.4 580.9 L1313.2 581.0 L1314.1 580.7 L1314.9 581.3 L1315.7 580.7 L1316.5 580.7 L1317.3 581.4 L1318.1 582.2 L1318.9 582.1 L1319.7 581.7 L1320.6 580.5 L1321.4 580.4 L1322.2 581.8 L1323.0 580.9 L1323.8 580.7 L1324.6 582.3 L1325.4 580.5 L1326.3 581.1 L1327.1 582.0 L1327.9 580.7 L1328.7 580.8 L1329.5 581.4 L1330.3 582.2 L1331.1 581.4 L1331.9 580.8 L1332.8 581.6 L1333.6 580.9 L1334.4 580.6 L1335.2 581.9 L1336.0 582.4 L1336.8 582.0 L1337.6 582.1 L1338.5 580.0 L1339.3 582.0 L1340.1 580.7 L1340.9 582.5 L1341.7 582.1 L1342.5 581.7 L1343.3 582.3 L1344.1 581.7 L1345.0 582.1 L1345.8 580.7 L1346.6 581.4 L1347.4 580.9 L1348.2 582.5 L1349.0 581.8 L1349.8 582.0 L1350.7 582.2 L1351.5 582.1 L1352.3 581.1 L1353.1 582.4 L1353.9 582.1 L1354.7 582.5 L1355.5 581.0 L1356.3 581.5 L1357.2 582.3 L1358.0 580.8 L1358.8 582.3 L1359.6 582.3 L1360.4 581.3 L1361.2 582.0 L1362.0 580.8 L1362.8 582.4 L1363.7 581.9 L1364.5 581.8 L1365.3 581.0 L1366.1 580.5 L1366.9 580.6 L1367.7 581.7 L1368.5 581.8 L1369.3 581.2 L1370.1 581.7 L1371.0 581.0 L1371.8 581.1 L1372.6 581.0 L1373.4 581.1 L1374.2 580.1 L1375.0 580.9 L1375.8 579.7 L1376.6 579.8 L1377.4 581.2 L1378.3 579.9 L1379.1 580.0 L1379.9 579.8 L1380.7 580.5 L1381.5 579.6 L1382.3 581.0 L1383.1 579.6 L1383.9 579.9 L1384.7 579.5 L1385.5 581.1 L1386.4 579.2 L1387.2 579.3 L1388.0 580.2 L1388.8 579.9 L1389.6 580.1 L1390.4 580.7 L1391.2 580.4 L1392.0 580.4 L1392.8 578.8 L1393.6 580.3 L1394.5 580.3 L1395.3 580.4 L1396.1 579.9 L1396.9 579.1 L1397.7 579.1 L1398.5 579.3 L1399.3 579.6 L1400.1 579.8 L1400.9 580.2 L1401.7 578.8 L1402.5 578.1 L1403.4 579.2 L1404.2 578.8 L1405.0 579.7 L1405.8 579.0 L1406.6 579.5 L1407.4 579.1 L1408.2 578.9 L1409.0 578.1 L1409.8 579.0 L1410.6 579.5 L1411.5 579.4 L1412.3 579.5 L1413.1 578.0 L1413.9 580.1 L1414.7 578.3 L1415.5 579.2 L1416.3 578.5 L1417.1 579.1 L1417.9 578.0 L1418.7 579.1 L1419.6 578.8 L1420.4 578.3 L1421.2 578.5 L1422.0 577.2 L1422.8 577.7 L1423.6 578.3 L1424.4 577.1 L1425.2 578.0 L1426.0 578.1 L1426.8 578.5 L1427.6 577.7 L1428.4 577.3 L1429.2 578.1 L1430.0 578.6 L1430.8 578.3 L1431.6 577.3 L1432.4 577.4 L1433.3 576.8 L1434.1 577.3 L1434.9 577.8 L1435.7 576.7 L1436.5 578.0 L1437.3 577.1 L1438.1 576.6 L1438.9 578.0 L1439.7 576.9 L1440.5 577.5 L1441.3 576.9 L1442.1 578.1 L1442.9 577.0 L1443.7 576.6 L1444.5 577.6 L1445.3 576.5 L1446.1 577.8 L1446.9 576.5 L1447.7 577.0 L1448.5 577.8 L1449.3 577.7 L1450.2 577.7 L1451.0 576.0 L1451.8 576.7 L1452.6 576.5 L1453.4 576.9 L1454.2 577.0 L1455.0 576.7 L1455.8 577.6 L1456.6 576.6 L1457.4 576.2 L1458.2 576.6 L1459.0 576.7" fill="none" stroke="#000" stroke-width="2.6" stroke-linejoin="round"/>
<path d="M1036.8 499.9 L1036.8 502.9 L1036.7 505.9 L1037.2 508.9 L1037.3 511.9 L1037.2 514.9 L1037.6 517.9 L1038.0 520.9 L1038.1 523.9 L1037.8 526.9 L1037.7 530.0 L1038.1 533.0 L1037.9 536.0 L1038.4 539.0 L1038.5 542.0 L1038.5 545.0 L1038.4 548.0 L1038.8 551.0 L1039.0 554.0 L1039.1 557.0 L1039.7 560.0 L1039.8 563.0 L1039.5 566.0 L1040.3 569.0 L1040.4 572.0 L1040.2 575.0 L1040.6 578.0 L1041.3 581.0 L1040.9 584.0 L1041.7 587.1 L1041.7 590.1 L1041.8 593.1 L1042.3 596.1 L1042.6 599.1 L1043.0 602.1 L1043.3 605.1 L1043.3 608.1 L1043.6 611.1 L1043.7 614.1 L1043.7 617.4 L1044.6 620.7 L1045.1 624.0 L1045.3 627.3 L1045.3 630.5 L1045.9 633.8 L1046.3 637.1 L1047.0 640.4 L1047.1 643.7 L1047.5 647.1 L1047.8 650.6 L1049.0 654.0 L1049.4 657.5 L1049.8 661.2 L1050.8 657.2 L1051.8 656.1 L1052.8 653.7 L1053.6 653.8 L1054.4 652.2 L1055.2 651.9 L1056.0 651.4 L1056.8 652.0 L1057.6 651.2 L1058.4 652.8 L1059.2 652.3 L1060.0 652.7 L1060.8 651.6 L1061.6 653.1 L1062.4 654.3 L1063.2 653.1 L1064.0 654.7 L1064.8 655.8 L1065.6 655.9 L1066.4 656.6 L1067.2 658.3 L1068.0 659.0 L1068.8 659.2 L1069.6 660.0 L1070.4 662.2 L1071.2 661.4 L1072.1 663.5 L1072.9 663.6 L1073.7 665.3 L1074.5 665.4 L1074.8 662.2 L1075.5 659.0 L1075.7 655.9 L1076.1 652.7 L1076.8 650.0 L1077.7 648.1 L1078.6 645.7 L1079.5 645.0 L1080.4 641.2 L1081.3 639.6 L1082.1 639.1 L1082.9 639.2 L1083.7 639.8 L1084.6 638.9 L1085.4 638.8 L1086.2 638.1 L1087.0 638.2 L1087.8 637.9 L1088.6 637.2 L1089.4 638.1 L1090.3 636.6 L1091.1 635.9 L1091.9 636.6 L1092.7 636.2 L1093.5 635.7 L1094.3 636.2 L1095.2 637.1 L1096.0 637.6 L1096.8 636.6 L1097.6 638.3 L1098.4 638.5 L1099.2 637.5 L1100.1 638.5 L1100.9 638.7 L1101.7 638.5 L1102.5 639.8 L1103.3 639.8 L1104.2 639.2 L1105.0 639.7 L1105.8 639.6 L1106.6 639.6 L1107.4 639.8 L1108.2 640.0 L1109.1 641.1 L1109.9 641.5 L1110.7 640.3 L1111.5 640.9 L1112.3 641.0 L1113.1 642.1 L1114.0 641.8 L1114.8 642.7 L1115.6 641.7 L1116.4 643.0 L1117.2 641.6 L1118.0 642.8 L1118.9 641.8 L1119.7 643.3 L1120.5 642.1 L1121.3 641.9 L1122.1 643.2 L1122.9 641.6 L1123.7 641.7 L1124.6 642.5 L1125.4 642.3 L1126.2 643.1 L1127.0 642.2 L1127.8 642.1 L1128.6 641.7 L1129.4 643.6 L1130.3 643.4 L1131.1 642.6 L1131.9 642.8 L1132.7 643.3 L1133.5 643.3 L1134.3 643.1 L1135.1 643.2 L1136.0 641.7 L1136.8 641.9 L1137.6 643.3 L1138.4 642.0 L1139.2 643.0 L1140.0 641.8 L1140.8 642.8 L1141.7 642.9 L1142.5 642.1 L1143.3 642.7 L1144.1 641.6 L1144.9 642.0 L1145.7 642.9 L1146.5 642.8 L1147.4 642.0 L1148.2 643.0 L1149.0 641.9 L1149.8 643.2 L1150.6 643.2 L1151.4 643.5 L1152.2 642.6 L1153.1 642.2 L1153.9 642.4 L1154.7 643.4 L1155.5 644.5 L1156.3 643.6 L1157.1 643.0 L1158.0 644.0 L1158.8 644.6 L1159.6 644.8 L1160.4 643.4 L1161.2 644.5 L1162.0 645.0 L1162.9 644.4 L1163.7 645.4 L1164.5 644.8 L1165.3 646.1 L1166.1 645.6 L1166.9 645.4 L1167.8 644.1 L1168.6 644.8 L1169.4 644.9 L1170.2 646.8 L1171.0 645.8 L1171.8 645.5 L1172.7 646.9 L1173.5 645.5 L1174.3 647.0 L1175.1 647.2 L1175.9 647.6 L1176.8 646.9 L1177.6 647.0 L1178.4 647.8 L1179.2 648.3 L1180.0 647.7 L1180.8 648.7 L1181.6 648.4 L1182.5 647.4 L1183.3 648.8 L1184.1 648.1 L1184.9 649.0 L1185.8 649.3 L1186.6 649.3 L1187.4 650.1 L1188.2 649.3 L1189.1 649.7 L1189.9 648.3 L1190.7 649.5 L1191.5 649.1 L1192.4 647.8 L1193.2 648.6 L1194.0 647.5 L1194.9 650.0 L1195.7 649.8 L1196.5 648.6 L1197.3 648.9 L1198.2 649.0 L1199.0 648.7 L1199.8 649.1 L1200.6 650.2 L1201.5 648.9 L1202.3 650.2 L1203.1 649.9 L1203.9 650.0 L1204.8 649.6 L1205.6 649.9 L1206.4 649.1 L1207.2 649.6 L1208.1 649.6 L1208.9 649.6 L1209.7 649.6 L1210.5 649.0 L1211.4 647.5 L1212.2 648.5 L1213.0 648.0 L1213.8 648.8 L1214.7 647.5 L1215.5 647.5 L1216.3 646.6 L1217.1 647.3 L1218.0 646.8 L1218.8 647.0 L1219.6 647.4 L1220.4 648.5 L1221.3 647.7 L1222.1 647.2 L1222.9 647.7 L1223.7 647.7 L1224.5 645.8 L1225.3 647.1 L1226.2 646.1 L1227.0 646.7 L1227.8 644.9 L1228.6 645.0 L1229.4 645.5 L1230.2 646.6 L1231.0 643.5 L1231.9 645.3 L1232.7 643.5 L1233.5 644.2 L1234.3 644.0 L1235.1 642.2 L1235.9 643.8 L1236.7 641.8 L1237.6 641.4 L1238.4 641.7 L1239.2 641.8 L1240.0 641.5 L1240.9 640.1 L1241.8 641.1 L1242.6 641.2 L1243.5 638.9 L1244.3 640.5 L1245.2 640.2 L1246.0 638.4 L1246.9 639.5 L1247.7 639.2 L1248.5 638.9 L1249.4 637.2 L1250.2 638.0 L1251.1 637.3 L1251.9 636.4 L1252.7 637.2 L1253.6 637.6 L1254.4 638.5 L1255.3 638.7 L1256.1 638.2 L1257.0 638.6 L1257.8 640.0 L1258.6 640.1 L1259.5 640.0 L1260.3 640.0 L1261.2 640.7 L1262.0 640.4 L1262.9 642.1 L1263.7 642.0 L1264.5 641.7 L1265.3 641.6 L1266.2 642.0 L1267.0 643.2 L1267.8 643.1 L1268.6 642.4 L1269.4 642.9 L1270.3 642.0 L1271.1 642.1 L1271.9 642.8 L1272.7 643.5 L1273.5 643.1 L1274.4 643.3 L1275.2 643.4 L1276.0 642.9 L1276.8 643.3 L1277.6 642.9 L1278.5 643.4 L1279.3 644.5 L1280.1 643.9 L1280.9 644.1 L1281.7 644.7 L1282.5 644.3 L1283.4 644.7 L1284.2 644.7 L1285.0 644.9 L1285.8 643.7 L1286.6 645.0 L1287.5 644.7 L1288.3 645.1 L1289.1 645.6 L1289.9 645.3 L1290.7 644.9 L1291.6 646.1 L1292.4 645.7 L1293.2 645.5 L1294.0 646.6 L1294.8 646.1 L1295.7 645.6 L1296.5 646.2 L1297.3 645.6 L1298.1 645.9 L1298.9 646.9 L1299.7 645.7 L1300.5 646.8 L1301.3 645.7 L1302.1 645.7 L1302.9 645.6 L1303.7 645.7 L1304.5 645.6 L1305.3 647.1 L1306.1 645.6 L1306.9 647.2 L1307.7 645.7 L1308.5 645.5 L1309.3 646.8 L1310.1 646.6 L1310.9 645.8 L1311.7 646.1 L1312.5 646.7 L1313.3 646.9 L1314.2 645.8 L1315.0 645.9 L1315.8 646.9 L1316.6 646.3 L1317.4 646.5 L1318.2 646.1 L1319.0 647.5 L1319.8 647.0 L1320.6 646.0 L1321.4 646.4 L1322.2 645.9 L1323.0 647.9 L1323.8 646.8 L1324.6 645.8 L1325.4 645.9 L1326.2 647.1 L1327.0 646.1 L1327.8 647.4 L1328.6 646.8 L1329.4 646.2 L1330.2 646.9 L1331.0 647.3 L1331.8 647.5 L1332.6 647.1 L1333.4 646.4 L1334.2 646.2 L1335.0 646.6 L1335.8 645.7 L1336.6 645.6 L1337.4 645.6 L1338.2 647.1 L1339.0 645.6 L1339.8 645.4 L1340.6 645.1 L1341.4 645.6 L1342.2 646.3 L1343.0 646.2 L1343.8 644.6 L1344.6 645.3 L1345.4 645.3 L1346.2 645.8 L1347.0 645.4 L1347.8 644.4 L1348.7 645.4 L1349.5 645.0 L1350.3 644.9 L1351.1 643.6 L1351.9 644.7 L1352.7 644.5 L1353.5 643.9 L1354.3 644.8 L1355.1 643.8 L1355.9 644.4 L1356.7 643.6 L1357.5 643.4 L1358.3 643.4 L1359.1 643.9 L1359.9 643.6 L1360.7 644.1 L1361.5 643.6 L1362.3 643.3 L1363.1 642.4 L1363.9 641.9 L1364.7 641.9 L1365.5 644.3 L1366.3 642.8 L1367.1 641.8 L1367.9 643.2 L1368.7 643.4 L1369.5 642.9 L1370.3 643.1 L1371.1 641.7 L1371.9 641.8 L1372.7 641.8 L1373.5 641.4 L1374.3 643.2 L1375.1 643.1 L1375.9 641.9 L1376.7 643.0 L1377.5 641.9 L1378.3 641.7 L1379.1 641.8 L1379.9 641.9 L1380.7 641.3 L1381.6 641.9 L1382.4 641.5 L1383.2 642.6 L1384.0 641.7 L1384.8 641.8 L1385.6 641.6 L1386.4 641.3 L1387.2 640.8 L1388.0 640.8 L1388.8 641.5 L1389.6 641.1 L1390.4 640.8 L1391.2 641.0 L1392.0 642.2 L1392.8 641.0 L1393.6 642.1 L1394.4 641.2 L1395.2 640.6 L1396.0 641.4 L1396.8 640.5 L1397.6 640.6 L1398.4 641.4 L1399.2 640.7 L1400.1 639.9 L1400.9 640.9 L1401.8 640.0 L1402.6 640.0 L1403.4 639.7 L1404.3 640.4 L1405.1 640.9 L1406.0 639.5 L1406.8 640.1 L1407.6 639.3 L1408.5 639.6 L1409.3 639.5 L1410.2 640.0 L1411.0 638.6 L1411.8 639.2 L1412.7 639.7 L1413.5 638.5 L1414.4 637.7 L1415.2 638.9 L1416.0 638.9 L1416.8 638.1 L1417.6 637.7 L1418.4 638.5 L1419.2 637.6 L1420.0 636.5 L1420.8 637.0 L1421.6 637.4 L1422.4 635.7 L1423.2 635.5 L1424.1 636.5 L1424.9 635.7 L1425.7 635.6 L1426.5 634.5 L1427.3 634.5 L1428.1 636.4 L1428.9 634.1 L1429.7 634.3 L1430.5 633.8 L1431.3 633.3 L1432.1 634.3 L1432.9 633.4 L1433.7 634.2 L1434.6 634.2 L1435.4 635.3 L1436.2 636.4 L1437.1 636.6 L1437.9 638.2 L1438.8 637.8 L1439.6 638.8 L1440.4 639.0 L1441.3 637.9 L1442.1 637.6 L1443.0 638.0 L1443.8 637.7 L1444.7 637.2 L1445.5 636.4 L1446.4 636.9 L1447.2 636.3" fill="none" stroke="#000" stroke-width="2.6" stroke-linejoin="round"/>
<path d="M1017.9 538.7 L1017.8 541.7 L1018.3 544.8 L1018.3 547.8 L1018.6 550.9 L1018.3 553.9 L1019.1 557.0 L1018.5 560.0 L1018.8 563.0 L1019.1 566.1 L1019.0 569.1 L1019.1 572.2 L1019.7 575.2 L1020.1 578.3 L1019.7 581.3 L1019.8 584.3 L1020.2 587.4 L1020.0 590.4 L1020.3 593.5 L1020.7 596.5 L1020.6 599.6 L1020.8 602.6 L1020.8 605.6 L1020.9 608.7 L1021.5 611.7 L1022.1 614.8 L1022.3 617.8 L1021.8 620.9 L1022.4 623.9 L1022.6 627.0 L1022.6 630.0 L1023.2 633.1 L1023.3 636.1 L1023.8 639.2 L1023.6 642.2 L1024.3 645.3 L1024.2 648.3 L1024.7 651.3 L1024.6 654.3 L1024.6 657.3 L1025.1 660.3 L1025.0 663.3 L1025.7 666.3 L1025.9 669.3 L1026.0 672.3 L1026.5 675.3 L1026.0 678.3 L1026.8 681.3 L1027.1 684.3 L1026.7 687.3 L1027.1 690.3 L1027.1 693.3 L1027.7 696.3 L1028.5 698.5 L1029.4 700.8 L1030.2 703.0 L1031.1 705.1 L1032.0 707.7 L1032.8 709.8 L1033.7 712.3 L1034.5 714.0 L1035.3 715.2 L1036.1 716.6 L1036.9 717.7 L1037.7 719.7 L1038.5 721.1 L1039.3 722.6 L1040.1 723.9 L1040.9 725.0 L1041.7 725.6 L1042.5 727.5 L1043.3 727.1 L1044.2 728.6 L1045.0 728.2 L1045.8 727.3 L1046.6 728.6 L1047.5 728.3 L1048.3 729.2 L1049.1 729.0 L1049.9 729.9 L1050.8 729.8 L1051.6 729.6 L1052.5 727.6 L1053.3 726.6 L1054.2 725.9 L1055.0 724.3 L1055.9 721.7 L1056.8 721.2 L1057.6 720.3 L1058.5 718.4 L1059.3 716.4 L1060.2 717.0 L1061.0 717.0 L1061.8 717.7 L1062.7 716.2 L1063.5 716.0 L1064.3 716.6 L1065.2 715.1 L1066.0 714.9 L1066.8 714.3 L1067.7 714.7 L1068.5 715.8 L1069.3 713.8 L1070.1 714.6 L1071.0 713.7 L1071.8 714.1 L1072.6 712.5 L1073.5 712.3 L1074.3 712.2 L1075.1 712.7 L1076.0 712.0 L1076.8 713.3 L1077.6 713.3 L1078.4 711.6 L1079.2 712.8 L1080.0 712.0 L1080.8 711.4 L1081.6 711.8 L1082.4 712.6 L1083.2 711.6 L1084.1 713.3 L1084.9 712.5 L1085.7 713.4 L1086.5 712.8 L1087.3 713.4 L1088.1 712.6 L1088.9 712.6 L1089.7 712.7 L1090.5 712.0 L1091.3 712.3 L1092.1 712.3 L1092.9 713.6 L1093.7 712.4 L1094.5 712.9 L1095.3 712.0 L1096.1 712.5 L1096.9 713.7 L1097.8 713.2 L1098.6 713.8 L1099.4 712.7 L1100.2 713.1 L1101.0 712.4 L1101.8 711.7 L1102.6 714.2 L1103.4 712.3 L1104.2 713.3 L1105.0 712.8 L1105.8 713.3 L1106.6 712.6 L1107.4 711.9 L1108.2 711.4 L1109.0 712.5 L1109.8 711.6 L1110.6 711.8 L1111.5 711.4 L1112.3 710.4 L1113.1 710.7 L1113.9 710.5 L1114.7 710.1 L1115.5 708.0 L1116.3 709.7 L1117.1 708.9 L1117.9 709.4 L1118.7 709.6 L1119.5 708.6 L1120.4 710.0 L1121.2 709.1 L1122.0 709.5 L1122.8 709.6 L1123.6 708.9 L1124.4 710.4 L1125.3 710.3 L1126.1 710.3 L1126.9 709.6 L1127.7 710.7 L1128.5 709.5 L1129.4 710.0 L1130.2 711.6 L1131.0 711.6 L1131.8 711.2 L1132.6 710.5 L1133.4 711.8 L1134.3 711.3 L1135.1 710.3 L1135.9 710.5 L1136.7 711.7 L1137.5 711.7 L1138.3 712.4 L1139.2 712.7 L1140.0 711.0 L1140.8 711.5 L1141.6 712.9 L1142.4 711.8 L1143.3 712.1 L1144.1 712.8 L1144.9 712.4 L1145.7 711.8 L1146.5 712.0 L1147.3 713.4 L1148.2 713.7 L1149.0 712.6 L1149.8 713.6 L1150.6 712.6 L1151.4 713.9 L1152.2 712.5 L1153.0 713.6 L1153.8 714.2 L1154.6 713.9 L1155.4 714.1 L1156.2 712.8 L1157.0 713.0 L1157.9 714.2 L1158.7 713.9 L1159.5 712.9 L1160.3 714.5 L1161.1 713.6 L1161.9 712.5 L1162.7 714.1 L1163.5 713.3 L1164.3 713.2 L1165.1 713.9 L1165.9 713.6 L1166.7 714.5 L1167.5 713.6 L1168.3 713.0 L1169.1 713.3 L1169.9 712.8 L1170.7 713.9 L1171.5 713.4 L1172.3 713.1 L1173.2 712.6 L1174.0 713.2 L1174.8 713.8 L1175.6 714.0 L1176.4 714.3 L1177.2 714.5 L1178.0 714.1 L1178.8 713.6 L1179.6 714.7 L1180.4 712.9 L1181.2 713.8 L1182.0 713.2 L1182.8 713.6 L1183.6 713.1 L1184.4 713.2 L1185.2 713.9 L1186.0 713.8 L1186.8 712.8 L1187.7 712.2 L1188.5 714.0 L1189.3 714.5 L1190.1 714.4 L1190.9 714.1 L1191.7 713.6 L1192.5 713.0 L1193.3 714.3 L1194.1 714.0 L1194.9 713.1 L1195.7 714.8 L1196.5 713.4 L1197.3 713.4 L1198.1 714.0 L1198.9 713.6 L1199.7 713.7 L1200.5 714.5 L1201.3 714.4 L1202.1 714.6 L1203.0 713.1 L1203.8 714.4 L1204.6 713.9 L1205.4 713.8 L1206.2 713.2 L1207.0 714.1 L1207.8 714.0 L1208.6 714.8 L1209.4 713.4 L1210.2 715.0 L1211.0 714.5 L1211.8 714.1 L1212.6 713.6 L1213.4 715.0 L1214.2 713.9 L1215.0 716.2 L1215.8 714.5 L1216.6 714.2 L1217.5 713.8 L1218.3 714.7 L1219.1 714.6 L1219.9 715.6 L1220.7 714.7 L1221.5 713.7 L1222.3 713.3 L1223.1 713.3 L1223.9 714.9 L1224.7 713.6 L1225.5 714.6 L1226.3 713.9 L1227.1 715.2 L1227.9 714.6 L1228.7 714.9 L1229.5 713.5 L1230.3 714.4 L1231.1 713.5 L1231.9 714.1 L1232.8 714.4 L1233.6 714.2 L1234.4 714.6 L1235.2 714.6 L1236.0 713.9 L1236.8 713.7 L1237.6 714.7 L1238.4 714.7 L1239.2 713.7 L1240.0 715.2 L1240.8 713.5 L1241.6 714.8 L1242.4 715.3 L1243.2 714.6 L1244.0 713.9 L1244.9 714.6 L1245.7 715.5 L1246.5 714.6 L1247.3 713.1 L1248.1 715.3 L1248.9 715.1 L1249.7 714.1 L1250.5 716.1 L1251.3 715.3 L1252.2 716.2 L1253.0 716.3 L1253.8 715.6 L1254.6 714.4 L1255.4 715.2 L1256.2 714.8 L1257.0 716.2 L1257.8 715.1 L1258.6 714.5 L1259.4 715.2 L1260.2 715.9 L1261.1 714.8 L1261.9 715.4 L1262.7 715.4 L1263.5 715.4 L1264.3 715.3 L1265.1 716.0 L1265.9 716.2 L1266.7 715.9 L1267.5 717.0 L1268.3 716.8 L1269.2 716.3 L1270.0 717.8 L1270.8 717.0 L1271.6 715.8 L1272.4 715.7 L1273.2 716.8 L1274.0 716.8 L1274.8 716.4 L1275.6 716.9 L1276.5 715.9 L1277.3 716.4 L1278.1 716.4 L1278.9 717.2 L1279.7 716.5 L1280.5 716.8 L1281.3 717.7 L1282.1 717.3 L1282.9 716.6 L1283.7 716.1 L1284.5 717.1 L1285.3 717.3 L1286.1 716.0 L1286.9 716.4 L1287.7 716.1 L1288.5 717.1 L1289.3 716.7 L1290.1 715.6 L1290.9 715.6 L1291.7 715.4 L1292.5 716.6 L1293.3 716.9 L1294.1 716.9 L1294.9 715.6 L1295.7 715.0 L1296.5 716.7 L1297.3 716.6 L1298.1 716.9 L1298.9 715.3 L1299.7 715.7 L1300.5 716.1 L1301.3 715.6 L1302.1 714.7 L1302.9 714.6 L1303.7 716.2 L1304.5 715.8 L1305.3 716.4 L1306.2 714.7 L1307.0 716.3 L1307.8 715.1 L1308.6 714.5 L1309.4 715.9 L1310.2 714.9 L1311.0 714.6 L1311.8 715.6 L1312.6 715.2 L1313.4 714.1 L1314.2 715.6 L1315.0 714.5 L1315.8 714.8 L1316.6 714.8 L1317.4 715.0 L1318.2 715.3 L1319.0 714.0 L1319.8 715.2 L1320.6 714.1 L1321.4 715.1 L1322.2 714.3 L1323.0 714.6 L1323.8 715.3 L1324.6 713.6 L1325.4 714.5 L1326.2 715.0 L1327.0 713.5 L1327.8 713.6 L1328.6 714.1 L1329.4 714.6 L1330.2 713.3 L1331.0 714.1 L1331.8 713.6 L1332.6 713.2 L1333.4 713.3 L1334.2 715.0 L1335.0 715.3 L1335.8 714.5 L1336.6 713.3 L1337.4 713.9 L1338.2 713.5 L1339.0 714.2 L1339.8 714.3 L1340.6 715.0 L1341.4 714.8 L1342.2 714.8 L1343.0 715.6 L1343.8 713.6 L1344.7 715.0 L1345.5 715.6 L1346.3 715.6 L1347.1 714.9 L1347.9 714.3 L1348.7 715.0 L1349.5 714.9 L1350.3 715.0 L1351.1 715.0 L1351.9 713.9 L1352.7 715.0 L1353.5 715.9 L1354.3 714.9 L1355.1 715.1 L1355.9 716.9 L1356.7 715.5 L1357.5 715.6 L1358.3 716.0 L1359.1 714.6 L1359.9 715.9 L1360.7 715.6 L1361.5 715.8 L1362.3 714.4 L1363.1 715.9 L1363.9 715.1 L1364.7 716.3 L1365.5 715.2 L1366.3 716.3 L1367.1 715.1 L1367.9 716.0 L1368.7 714.6 L1369.5 714.4 L1370.4 715.9 L1371.2 715.1 L1372.0 715.3 L1372.8 715.7 L1373.6 716.4 L1374.4 715.5 L1375.2 715.6 L1376.0 714.8 L1376.8 714.9 L1377.6 716.6 L1378.4 716.6 L1379.2 716.6 L1380.0 715.7 L1380.8 716.5 L1381.6 716.9 L1382.4 715.2 L1383.2 715.9 L1383.2 712.7 L1383.0 709.5 L1383.4 706.3 L1383.3 703.1 L1383.6 700.0 L1383.5 696.8 L1383.2 693.6 L1383.5 690.4 L1383.4 687.2 L1383.5 683.2 L1384.3 683.3 L1385.1 684.0 L1385.9 683.9 L1386.7 685.8 L1387.5 685.9 L1388.3 686.0 L1389.1 685.3 L1389.9 685.8 L1390.7 688.3 L1391.5 685.5 L1392.3 686.6 L1393.1 686.0 L1393.9 685.1 L1394.7 685.5 L1395.5 686.5 L1396.3 686.0 L1397.1 685.0 L1397.9 685.3 L1398.7 686.2 L1399.5 685.3 L1400.3 686.4 L1401.1 685.5 L1401.9 686.3 L1402.8 685.2 L1403.6 686.1 L1404.4 684.7 L1405.2 685.1 L1406.0 684.3 L1406.8 686.1 L1407.6 684.7 L1408.4 685.7 L1409.2 684.0 L1410.0 685.2 L1410.8 685.0 L1411.6 684.6 L1412.4 684.4 L1413.2 685.3 L1414.0 685.3 L1414.8 685.3 L1415.6 685.1 L1416.4 684.9 L1417.2 686.1 L1418.0 683.7 L1418.8 683.3 L1419.6 683.8 L1420.4 683.1 L1421.2 684.2 L1422.0 684.7 L1422.8 683.3 L1423.6 683.6 L1424.4 684.4 L1425.2 683.0 L1426.0 682.3 L1426.8 683.4 L1427.6 684.2 L1428.5 682.7 L1429.3 682.3 L1430.1 683.1 L1430.9 682.7 L1431.7 682.4 L1432.5 682.6 L1433.3 682.8 L1434.1 681.6 L1434.9 682.1 L1435.7 683.2 L1436.5 682.9 L1437.3 682.3 L1438.1 681.2 L1438.9 682.5 L1439.7 681.8 L1440.5 682.7 L1441.3 681.9" fill="none" stroke="#000" stroke-width="2.6" stroke-linejoin="round"/>
<text x="-0.5" y="831" class="lbl">c</text>
<rect x="205.85" y="1191.8" width="15.1" height="102.2" fill="#000"/>
<rect x="211.60" y="1196.7" width="12.6" height="97.3" fill="#fff" stroke="#000" stroke-width="1.8"/>
<rect x="223.49" y="1253.4" width="15.1" height="40.6" fill="#000"/>
<rect x="229.24" y="1154.7" width="12.6" height="139.3" fill="#fff" stroke="#000" stroke-width="1.8"/>
<rect x="241.13" y="1172.2" width="15.1" height="121.8" fill="#000"/>
<rect x="246.88" y="1078.8" width="12.6" height="215.2" fill="#fff" stroke="#000" stroke-width="1.8"/>
<rect x="258.77" y="1066.1" width="15.1" height="227.9" fill="#000"/>
<rect x="264.52" y="1103.6" width="12.6" height="190.4" fill="#fff" stroke="#000" stroke-width="1.8"/>
<rect x="276.41" y="1017.6" width="15.1" height="276.4" fill="#000"/>
<rect x="282.16" y="1141.6" width="12.6" height="152.4" fill="#fff" stroke="#000" stroke-width="1.8"/>
<rect x="294.05" y="1080.5" width="15.1" height="213.5" fill="#000"/>
<rect x="299.80" y="1122.0" width="12.6" height="172.0" fill="#fff" stroke="#000" stroke-width="1.8"/>
<rect x="311.69" y="1157.8" width="15.1" height="136.2" fill="#000"/>
<rect x="317.44" y="1211.1" width="12.6" height="82.9" fill="#fff" stroke="#000" stroke-width="1.8"/>
<rect x="329.33" y="1197.1" width="15.1" height="96.9" fill="#000"/>
<rect x="335.08" y="1201.9" width="12.6" height="92.1" fill="#fff" stroke="#000" stroke-width="1.8"/>
<rect x="346.97" y="1273.0" width="15.1" height="21.0" fill="#000"/>
<rect x="352.72" y="1260.8" width="12.6" height="33.2" fill="#fff" stroke="#000" stroke-width="1.8"/>
<rect x="364.61" y="1273.0" width="15.1" height="21.0" fill="#000"/>
<rect x="370.36" y="1253.0" width="12.6" height="41.0" fill="#fff" stroke="#000" stroke-width="1.8"/>
<rect x="382.25" y="1269.1" width="15.1" height="24.9" fill="#000"/>
<rect x="388.00" y="1242.5" width="12.6" height="51.5" fill="#fff" stroke="#000" stroke-width="1.8"/>
<rect x="399.89" y="1282.9" width="15.1" height="11.1" fill="#000"/>
<rect x="405.64" y="1275.2" width="12.6" height="18.8" fill="#fff" stroke="#000" stroke-width="1.8"/>
<rect x="417.53" y="1282.9" width="15.1" height="11.1" fill="#000"/>
<rect x="423.28" y="1285.7" width="12.6" height="8.3" fill="#fff" stroke="#000" stroke-width="1.8"/>
<rect x="435.17" y="1288.8" width="15.1" height="5.2" fill="#000"/>
<rect x="440.92" y="1289.7" width="12.6" height="4.3" fill="#fff" stroke="#000" stroke-width="1.8"/>
<rect x="452.81" y="1282.9" width="15.1" height="11.1" fill="#000"/>
<rect x="493.84" y="1289.0" width="12.6" height="5.0" fill="#fff" stroke="#000" stroke-width="1.8"/>
<rect x="523.37" y="1288.8" width="15.1" height="5.2" fill="#000"/>
<path d="M177.5 900.5 H195.5 V1294.0" fill="none" stroke="#000" stroke-width="2.9"/>
<line x1="195.5" y1="1294.0" x2="654.2" y2="1294.0" stroke="#000" stroke-width="3"/>
<line x1="177.5" y1="1294.0" x2="196.8" y2="1294.0" stroke="#000" stroke-width="2.9"/>
<line x1="177.5" y1="1163.0" x2="196.8" y2="1163.0" stroke="#000" stroke-width="2.9"/>
<line x1="177.5" y1="1032.0" x2="196.8" y2="1032.0" stroke="#000" stroke-width="2.9"/>
<line x1="212.7" y1="1294.0" x2="212.7" y2="1312.5" stroke="#000" stroke-width="2.9"/>
<text x="214.5" y="1354.3" class="t35" text-anchor="middle">0</text>
<line x1="300.9" y1="1294.0" x2="300.9" y2="1312.5" stroke="#000" stroke-width="2.9"/>
<text x="299.6" y="1354.3" class="t35" text-anchor="middle">200</text>
<line x1="389.1" y1="1294.0" x2="389.1" y2="1312.5" stroke="#000" stroke-width="2.9"/>
<text x="389.2" y="1354.3" class="t35" text-anchor="middle">400</text>
<line x1="477.3" y1="1294.0" x2="477.3" y2="1312.5" stroke="#000" stroke-width="2.9"/>
<text x="475.9" y="1354.3" class="t35" text-anchor="middle">600</text>
<line x1="565.5" y1="1294.0" x2="565.5" y2="1312.5" stroke="#000" stroke-width="2.9"/>
<text x="562.2" y="1354.3" class="t35" text-anchor="middle">800</text>
<line x1="653.7" y1="1294.0" x2="653.7" y2="1312.5" stroke="#000" stroke-width="2.9"/>
<text x="652.9" y="1354.3" class="t35" text-anchor="middle">1000</text>
<text x="166.5" y="1306.0" class="t35" text-anchor="end">0</text>
<text x="166.5" y="1175.0" class="t35" text-anchor="end">10</text>
<text x="166.5" y="1044.0" class="t35" text-anchor="end">20</text>
<text x="166.5" y="913.0" class="t35" text-anchor="end">30</text>
<text x="446.8" y="933.0" class="t36" text-anchor="middle">ns</text>
<text y="1436.0" class="t35" style="font-size:35.8px"><tspan x="266.5">Adhesion</tspan><tspan x="432.8">force</tspan><tspan x="524.2">(pN)</tspan></text>
<g transform="translate(91.0 1098.0) rotate(-90)"><text x="0" y="0" class="t35" style="font-size:35.5px" text-anchor="middle" xml:space="preserve">Frequency  (%)</text></g>
<text x="799" y="835" class="lbl">d</text>
<rect x="1019.05" y="1193.1" width="15.1" height="100.9" fill="#000"/>
<rect x="1024.80" y="1193.4" width="12.6" height="100.6" fill="#fff" stroke="#000" stroke-width="1.8"/>
<rect x="1036.69" y="1022.8" width="15.1" height="271.2" fill="#000"/>
<rect x="1042.44" y="1087.9" width="12.6" height="206.1" fill="#fff" stroke="#000" stroke-width="1.8"/>
<rect x="1054.33" y="1027.4" width="15.1" height="266.6" fill="#000"/>
<rect x="1060.08" y="1091.9" width="12.6" height="202.1" fill="#fff" stroke="#000" stroke-width="1.8"/>
<rect x="1071.97" y="1132.9" width="15.1" height="161.1" fill="#000"/>
<rect x="1077.72" y="1049.9" width="12.6" height="244.1" fill="#fff" stroke="#000" stroke-width="1.8"/>
<rect x="1089.61" y="1206.2" width="15.1" height="87.8" fill="#000"/>
<rect x="1095.36" y="1165.2" width="12.6" height="128.8" fill="#fff" stroke="#000" stroke-width="1.8"/>
<rect x="1107.25" y="1198.4" width="15.1" height="95.6" fill="#000"/>
<rect x="1113.00" y="1208.4" width="12.6" height="85.6" fill="#fff" stroke="#000" stroke-width="1.8"/>
<rect x="1124.89" y="1216.7" width="15.1" height="77.3" fill="#000"/>
<rect x="1130.64" y="1218.9" width="12.6" height="75.1" fill="#fff" stroke="#000" stroke-width="1.8"/>
<rect x="1142.53" y="1248.2" width="15.1" height="45.9" fill="#000"/>
<rect x="1148.28" y="1242.5" width="12.6" height="51.5" fill="#fff" stroke="#000" stroke-width="1.8"/>
<rect x="1160.17" y="1248.2" width="15.1" height="45.9" fill="#000"/>
<rect x="1165.92" y="1267.4" width="12.6" height="26.6" fill="#fff" stroke="#000" stroke-width="1.8"/>
<rect x="1177.81" y="1262.6" width="15.1" height="31.4" fill="#000"/>
<rect x="1183.56" y="1256.9" width="12.6" height="37.1" fill="#fff" stroke="#000" stroke-width="1.8"/>
<rect x="1195.45" y="1258.0" width="15.1" height="36.0" fill="#000"/>
<rect x="1201.20" y="1286.1" width="12.6" height="7.9" fill="#fff" stroke="#000" stroke-width="1.8"/>
<rect x="1213.09" y="1267.8" width="15.1" height="26.2" fill="#000"/>
<rect x="1218.84" y="1281.8" width="12.6" height="12.2" fill="#fff" stroke="#000" stroke-width="1.8"/>
<rect x="1230.73" y="1261.9" width="15.1" height="32.1" fill="#000"/>
<rect x="1236.48" y="1261.5" width="12.6" height="32.5" fill="#fff" stroke="#000" stroke-width="1.8"/>
<rect x="1248.37" y="1281.6" width="15.1" height="12.4" fill="#000"/>
<rect x="1254.12" y="1285.7" width="12.6" height="8.3" fill="#fff" stroke="#000" stroke-width="1.8"/>
<rect x="1266.01" y="1289.3" width="15.1" height="4.7" fill="#000"/>
<rect x="1271.76" y="1290.2" width="12.6" height="3.8" fill="#fff" stroke="#000" stroke-width="1.8"/>
<rect x="1283.65" y="1288.8" width="15.1" height="5.2" fill="#000"/>
<rect x="1289.40" y="1281.8" width="12.6" height="12.2" fill="#fff" stroke="#000" stroke-width="1.8"/>
<rect x="1301.29" y="1289.3" width="15.1" height="4.7" fill="#000"/>
<rect x="1307.04" y="1276.6" width="12.6" height="17.4" fill="#fff" stroke="#000" stroke-width="1.8"/>
<rect x="1324.68" y="1281.8" width="12.6" height="12.2" fill="#fff" stroke="#000" stroke-width="1.8"/>
<rect x="1342.32" y="1290.6" width="12.6" height="3.4" fill="#fff" stroke="#000" stroke-width="1.8"/>
<rect x="1412.88" y="1290.6" width="12.6" height="3.4" fill="#fff" stroke="#000" stroke-width="1.8"/>
<path d="M986.1 900.5 H1004.1 V1294.0" fill="none" stroke="#000" stroke-width="2.9"/>
<line x1="1007.3" y1="1294.0" x2="1467.4" y2="1294.0" stroke="#000" stroke-width="3"/>
<line x1="986.1" y1="1294.0" x2="1005.4" y2="1294.0" stroke="#000" stroke-width="2.9"/>
<line x1="986.1" y1="1163.0" x2="1005.4" y2="1163.0" stroke="#000" stroke-width="2.9"/>
<line x1="986.1" y1="1032.0" x2="1005.4" y2="1032.0" stroke="#000" stroke-width="2.9"/>
<line x1="1025.9" y1="1294.0" x2="1025.9" y2="1312.5" stroke="#000" stroke-width="2.9"/>
<text x="1026.7" y="1356.0" class="t35" text-anchor="middle">0</text>
<line x1="1114.1" y1="1294.0" x2="1114.1" y2="1312.5" stroke="#000" stroke-width="2.9"/>
<text x="1115.8" y="1356.0" class="t35" text-anchor="middle">2</text>
<line x1="1202.3" y1="1294.0" x2="1202.3" y2="1312.5" stroke="#000" stroke-width="2.9"/>
<text x="1202.5" y="1356.0" class="t35" text-anchor="middle">4</text>
<line x1="1290.5" y1="1294.0" x2="1290.5" y2="1312.5" stroke="#000" stroke-width="2.9"/>
<text x="1292.5" y="1356.0" class="t35" text-anchor="middle">6</text>
<line x1="1378.7" y1="1294.0" x2="1378.7" y2="1312.5" stroke="#000" stroke-width="2.9"/>
<text x="1382.2" y="1356.0" class="t35" text-anchor="middle">8</text>
<line x1="1466.9" y1="1294.0" x2="1466.9" y2="1312.5" stroke="#000" stroke-width="2.9"/>
<text x="1465.8" y="1356.0" class="t35" text-anchor="middle">10</text>
<text x="976.0" y="1306.0" class="t35" text-anchor="end">0</text>
<text x="976.0" y="1175.0" class="t35" text-anchor="end">10</text>
<text x="976.0" y="1044.0" class="t35" text-anchor="end">20</text>
<text x="976.0" y="913.0" class="t35" text-anchor="end">30</text>
<text x="1230.4" y="931.0" class="t36" text-anchor="middle">ns</text>
<text y="1438.0" class="t35" style="font-size:35.8px"><tspan x="1072.0">Rupture</tspan><tspan x="1215.4">length</tspan><tspan x="1327.3">(µm)</tspan></text>
<g transform="translate(900.5 1110.2) rotate(-90)"><text x="0" y="0" class="t35" style="font-size:35.5px" text-anchor="middle" xml:space="preserve">Frequency  (%)</text></g>
</svg></body></html>
